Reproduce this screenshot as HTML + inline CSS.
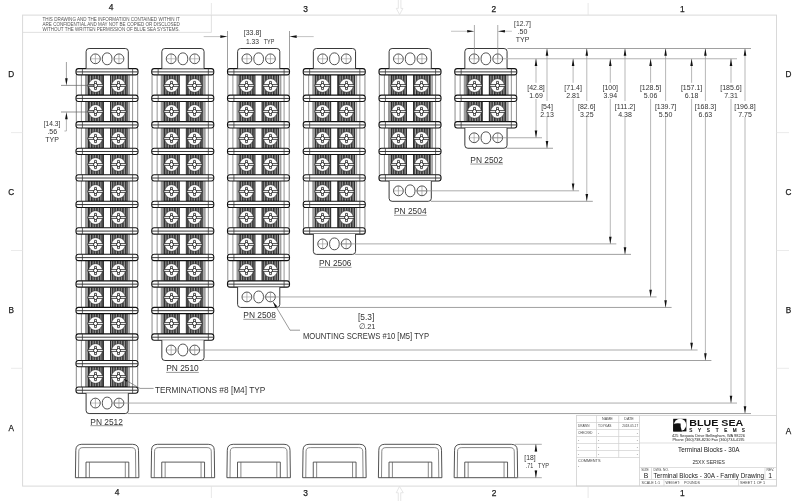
<!DOCTYPE html><html><head><meta charset="utf-8"><style>html,body{margin:0;padding:0;background:#fff;overflow:hidden}svg{display:block;will-change:transform}</style></head><body><svg width="800" height="501" viewBox="0 0 800 501" font-family='"Liberation Sans", sans-serif'>
<rect width="800" height="501" fill="#fff"/>
<defs>
<pattern id="hatch" patternUnits="userSpaceOnUse" width="2.6" height="4">
<rect width="2.6" height="4" fill="#333"/>
<rect x="1.5" width="1.1" height="4" fill="#a0a0a0"/>
</pattern>
<pattern id="hatch2" patternUnits="userSpaceOnUse" width="1.6" height="4">
<rect width="1.6" height="4" fill="#b0b0b0"/>
<rect width="0.7" height="4" fill="#777"/>
</pattern>
</defs>
<rect x="22.6" y="15.1" width="753.9" height="471" fill="none" stroke="#d9d9d9" stroke-width="1"/>
<text x="111" y="10.4" font-size="8.4" text-anchor="middle" fill="#222" font-weight="normal" stroke="#222" stroke-width="0.25">4</text>
<text x="305.6" y="12" font-size="8.4" text-anchor="middle" fill="#222" font-weight="normal" stroke="#222" stroke-width="0.25">3</text>
<text x="493.9" y="12" font-size="8.4" text-anchor="middle" fill="#222" font-weight="normal" stroke="#222" stroke-width="0.25">2</text>
<text x="682.3" y="12.2" font-size="8.4" text-anchor="middle" fill="#222" font-weight="normal" stroke="#222" stroke-width="0.25">1</text>
<text x="117" y="495.3" font-size="8.4" text-anchor="middle" fill="#222" font-weight="normal" stroke="#222" stroke-width="0.25">4</text>
<text x="305.7" y="495.5" font-size="8.4" text-anchor="middle" fill="#222" font-weight="normal" stroke="#222" stroke-width="0.25">3</text>
<text x="494" y="495.5" font-size="8.4" text-anchor="middle" fill="#222" font-weight="normal" stroke="#222" stroke-width="0.25">2</text>
<text x="682.3" y="495.5" font-size="8.4" text-anchor="middle" fill="#222" font-weight="normal" stroke="#222" stroke-width="0.25">1</text>
<text x="11.3" y="77.05" font-size="8.2" text-anchor="middle" fill="#222" font-weight="normal" stroke="#222" stroke-width="0.25">D</text>
<text x="788.4" y="76.95" font-size="8.2" text-anchor="middle" fill="#222" font-weight="normal" stroke="#222" stroke-width="0.25">D</text>
<text x="11.3" y="194.85" font-size="8.2" text-anchor="middle" fill="#222" font-weight="normal" stroke="#222" stroke-width="0.25">C</text>
<text x="788.4" y="194.85" font-size="8.2" text-anchor="middle" fill="#222" font-weight="normal" stroke="#222" stroke-width="0.25">C</text>
<text x="11.3" y="312.95" font-size="8.2" text-anchor="middle" fill="#222" font-weight="normal" stroke="#222" stroke-width="0.25">B</text>
<text x="788.4" y="312.95" font-size="8.2" text-anchor="middle" fill="#222" font-weight="normal" stroke="#222" stroke-width="0.25">B</text>
<text x="11.3" y="430.65" font-size="8.2" text-anchor="middle" fill="#222" font-weight="normal" stroke="#222" stroke-width="0.25">A</text>
<text x="788.4" y="433.75" font-size="8.2" text-anchor="middle" fill="#222" font-weight="normal" stroke="#222" stroke-width="0.25">A</text>
<line x1="211.4" y1="3" x2="211.4" y2="15.1" stroke="#e2e2e2" stroke-width="0.8" />
<line x1="211.4" y1="486.1" x2="211.4" y2="498" stroke="#e2e2e2" stroke-width="0.8" />
<line x1="588.1" y1="3" x2="588.1" y2="15.1" stroke="#e2e2e2" stroke-width="0.8" />
<line x1="588.1" y1="486.1" x2="588.1" y2="498" stroke="#e2e2e2" stroke-width="0.8" />
<line x1="11" y1="132.6" x2="22.6" y2="132.6" stroke="#e6e6e6" stroke-width="0.8" />
<line x1="776.5" y1="132.6" x2="789" y2="132.6" stroke="#e6e6e6" stroke-width="0.8" />
<line x1="11" y1="368.3" x2="22.6" y2="368.3" stroke="#e6e6e6" stroke-width="0.8" />
<line x1="776.5" y1="368.3" x2="789" y2="368.3" stroke="#e6e6e6" stroke-width="0.8" />
<line x1="11" y1="250.5" x2="22.6" y2="250.5" stroke="#e6e6e6" stroke-width="0.8" />
<line x1="776.5" y1="250.5" x2="789" y2="250.5" stroke="#e6e6e6" stroke-width="0.8" />
<path d="M398.3,0 V8.4 H396.3 L399.6,14.6 L402.9,8.4 H400.9 V0" fill="none" stroke="#e0e0e0" stroke-width="0.8"/>
<path d="M398.25,501 V492.75 H396.25 L399.5,486.4 L403.25,492.75 H400.75 V501" fill="none" stroke="#e0e0e0" stroke-width="0.8"/>
<path d="M23,32.4 H211.4 V15" fill="none" stroke="#d9d9d9" stroke-width="0.8"/>
<text x="111.2" y="21.3" font-size="4.7" text-anchor="middle" fill="#555" font-weight="normal" textLength="137.3" lengthAdjust="spacingAndGlyphs" >THIS DRAWING AND THE INFORMATION CONTAINED WITHIN IT</text>
<text x="111.2" y="26.05" font-size="4.7" text-anchor="middle" fill="#555" font-weight="normal" textLength="137.3" lengthAdjust="spacingAndGlyphs" >ARE CONFIDENTIAL AND MAY NOT BE COPIED OR DISCLOSED</text>
<text x="111.2" y="30.8" font-size="4.7" text-anchor="middle" fill="#555" font-weight="normal" textLength="137.3" lengthAdjust="spacingAndGlyphs" >WITHOUT THE WRITTEN PERMISSION OF BLUE SEA SYSTEMS.</text>
<line x1="76.3" y1="74.9" x2="76.3" y2="95.13" stroke="#8a8a8a" stroke-width="1.0" />
<line x1="81.4" y1="74.9" x2="81.4" y2="95.13" stroke="#8a8a8a" stroke-width="0.9" />
<line x1="137.7" y1="74.9" x2="137.7" y2="95.13" stroke="#8a8a8a" stroke-width="1.0" />
<line x1="132.6" y1="74.9" x2="132.6" y2="95.13" stroke="#8a8a8a" stroke-width="0.9" />
<rect x="85" y="74.9" width="3.2" height="20.23" fill="#9a9a9a"/>
<rect x="128.2" y="74.9" width="1.7" height="20.23" fill="#a0a0a0"/>
<rect x="88.4" y="74.9" width="15.1" height="20.23" fill="url(#hatch)" stroke="#111" stroke-width="0.8"/>
<circle cx="95.5" cy="85.5" r="6.85" fill="#fbfbfb" stroke="#333" stroke-width="0.6"/>
<path d="M87.9,84.55 H94.55 V81.4 H96.45 V84.55 H103.1 V86.45 H96.45 V89.6 H94.55 V86.45 H87.9 Z" fill="#fff" stroke="#2a2a2a" stroke-width="0.8"/>
<circle cx="95.5" cy="85.5" r="2.0" fill="#fff" stroke="#2a2a2a" stroke-width="1.0"/>
<rect x="110.5" y="74.9" width="16.7" height="20.23" fill="url(#hatch)" stroke="#111" stroke-width="0.8"/>
<circle cx="118.5" cy="85.5" r="6.85" fill="#fbfbfb" stroke="#333" stroke-width="0.6"/>
<path d="M110.9,84.55 H117.55 V81.4 H119.45 V84.55 H126.1 V86.45 H119.45 V89.6 H117.55 V86.45 H110.9 Z" fill="#fff" stroke="#2a2a2a" stroke-width="0.8"/>
<circle cx="118.5" cy="85.5" r="2.0" fill="#fff" stroke="#2a2a2a" stroke-width="1.0"/>
<line x1="76.3" y1="101.43" x2="76.3" y2="121.66" stroke="#8a8a8a" stroke-width="1.0" />
<line x1="81.4" y1="101.43" x2="81.4" y2="121.66" stroke="#8a8a8a" stroke-width="0.9" />
<line x1="137.7" y1="101.43" x2="137.7" y2="121.66" stroke="#8a8a8a" stroke-width="1.0" />
<line x1="132.6" y1="101.43" x2="132.6" y2="121.66" stroke="#8a8a8a" stroke-width="0.9" />
<rect x="85" y="101.43" width="3.2" height="20.23" fill="#9a9a9a"/>
<rect x="128.2" y="101.43" width="1.7" height="20.23" fill="#a0a0a0"/>
<rect x="88.4" y="101.43" width="15.1" height="20.23" fill="url(#hatch)" stroke="#111" stroke-width="0.8"/>
<circle cx="95.5" cy="111.5" r="6.85" fill="#fbfbfb" stroke="#333" stroke-width="0.6"/>
<path d="M87.9,110.55 H94.55 V107.4 H96.45 V110.55 H103.1 V112.45 H96.45 V115.6 H94.55 V112.45 H87.9 Z" fill="#fff" stroke="#2a2a2a" stroke-width="0.8"/>
<circle cx="95.5" cy="111.5" r="2.0" fill="#fff" stroke="#2a2a2a" stroke-width="1.0"/>
<rect x="110.5" y="101.43" width="16.7" height="20.23" fill="url(#hatch)" stroke="#111" stroke-width="0.8"/>
<circle cx="118.5" cy="111.5" r="6.85" fill="#fbfbfb" stroke="#333" stroke-width="0.6"/>
<path d="M110.9,110.55 H117.55 V107.4 H119.45 V110.55 H126.1 V112.45 H119.45 V115.6 H117.55 V112.45 H110.9 Z" fill="#fff" stroke="#2a2a2a" stroke-width="0.8"/>
<circle cx="118.5" cy="111.5" r="2.0" fill="#fff" stroke="#2a2a2a" stroke-width="1.0"/>
<line x1="76.3" y1="127.96" x2="76.3" y2="148.19" stroke="#8a8a8a" stroke-width="1.0" />
<line x1="81.4" y1="127.96" x2="81.4" y2="148.19" stroke="#8a8a8a" stroke-width="0.9" />
<line x1="137.7" y1="127.96" x2="137.7" y2="148.19" stroke="#8a8a8a" stroke-width="1.0" />
<line x1="132.6" y1="127.96" x2="132.6" y2="148.19" stroke="#8a8a8a" stroke-width="0.9" />
<rect x="85" y="127.96" width="3.2" height="20.23" fill="#9a9a9a"/>
<rect x="128.2" y="127.96" width="1.7" height="20.23" fill="#a0a0a0"/>
<rect x="88.4" y="127.96" width="15.1" height="20.23" fill="url(#hatch)" stroke="#111" stroke-width="0.8"/>
<circle cx="95.5" cy="138.5" r="6.85" fill="#fbfbfb" stroke="#333" stroke-width="0.6"/>
<path d="M87.9,137.55 H94.55 V134.4 H96.45 V137.55 H103.1 V139.45 H96.45 V142.6 H94.55 V139.45 H87.9 Z" fill="#fff" stroke="#2a2a2a" stroke-width="0.8"/>
<circle cx="95.5" cy="138.5" r="2.0" fill="#fff" stroke="#2a2a2a" stroke-width="1.0"/>
<rect x="110.5" y="127.96" width="16.7" height="20.23" fill="url(#hatch)" stroke="#111" stroke-width="0.8"/>
<circle cx="118.5" cy="138.5" r="6.85" fill="#fbfbfb" stroke="#333" stroke-width="0.6"/>
<path d="M110.9,137.55 H117.55 V134.4 H119.45 V137.55 H126.1 V139.45 H119.45 V142.6 H117.55 V139.45 H110.9 Z" fill="#fff" stroke="#2a2a2a" stroke-width="0.8"/>
<circle cx="118.5" cy="138.5" r="2.0" fill="#fff" stroke="#2a2a2a" stroke-width="1.0"/>
<line x1="76.3" y1="154.49" x2="76.3" y2="174.72" stroke="#8a8a8a" stroke-width="1.0" />
<line x1="81.4" y1="154.49" x2="81.4" y2="174.72" stroke="#8a8a8a" stroke-width="0.9" />
<line x1="137.7" y1="154.49" x2="137.7" y2="174.72" stroke="#8a8a8a" stroke-width="1.0" />
<line x1="132.6" y1="154.49" x2="132.6" y2="174.72" stroke="#8a8a8a" stroke-width="0.9" />
<rect x="85" y="154.49" width="3.2" height="20.23" fill="#9a9a9a"/>
<rect x="128.2" y="154.49" width="1.7" height="20.23" fill="#a0a0a0"/>
<rect x="88.4" y="154.49" width="15.1" height="20.23" fill="url(#hatch)" stroke="#111" stroke-width="0.8"/>
<circle cx="95.5" cy="164.5" r="6.85" fill="#fbfbfb" stroke="#333" stroke-width="0.6"/>
<path d="M87.9,163.55 H94.55 V160.4 H96.45 V163.55 H103.1 V165.45 H96.45 V168.6 H94.55 V165.45 H87.9 Z" fill="#fff" stroke="#2a2a2a" stroke-width="0.8"/>
<circle cx="95.5" cy="164.5" r="2.0" fill="#fff" stroke="#2a2a2a" stroke-width="1.0"/>
<rect x="110.5" y="154.49" width="16.7" height="20.23" fill="url(#hatch)" stroke="#111" stroke-width="0.8"/>
<circle cx="118.5" cy="164.5" r="6.85" fill="#fbfbfb" stroke="#333" stroke-width="0.6"/>
<path d="M110.9,163.55 H117.55 V160.4 H119.45 V163.55 H126.1 V165.45 H119.45 V168.6 H117.55 V165.45 H110.9 Z" fill="#fff" stroke="#2a2a2a" stroke-width="0.8"/>
<circle cx="118.5" cy="164.5" r="2.0" fill="#fff" stroke="#2a2a2a" stroke-width="1.0"/>
<line x1="76.3" y1="181.02" x2="76.3" y2="201.25" stroke="#8a8a8a" stroke-width="1.0" />
<line x1="81.4" y1="181.02" x2="81.4" y2="201.25" stroke="#8a8a8a" stroke-width="0.9" />
<line x1="137.7" y1="181.02" x2="137.7" y2="201.25" stroke="#8a8a8a" stroke-width="1.0" />
<line x1="132.6" y1="181.02" x2="132.6" y2="201.25" stroke="#8a8a8a" stroke-width="0.9" />
<rect x="85" y="181.02" width="3.2" height="20.23" fill="#9a9a9a"/>
<rect x="128.2" y="181.02" width="1.7" height="20.23" fill="#a0a0a0"/>
<rect x="88.4" y="181.02" width="15.1" height="20.23" fill="url(#hatch)" stroke="#111" stroke-width="0.8"/>
<circle cx="95.5" cy="191.5" r="6.85" fill="#fbfbfb" stroke="#333" stroke-width="0.6"/>
<path d="M87.9,190.55 H94.55 V187.4 H96.45 V190.55 H103.1 V192.45 H96.45 V195.6 H94.55 V192.45 H87.9 Z" fill="#fff" stroke="#2a2a2a" stroke-width="0.8"/>
<circle cx="95.5" cy="191.5" r="2.0" fill="#fff" stroke="#2a2a2a" stroke-width="1.0"/>
<rect x="110.5" y="181.02" width="16.7" height="20.23" fill="url(#hatch)" stroke="#111" stroke-width="0.8"/>
<circle cx="118.5" cy="191.5" r="6.85" fill="#fbfbfb" stroke="#333" stroke-width="0.6"/>
<path d="M110.9,190.55 H117.55 V187.4 H119.45 V190.55 H126.1 V192.45 H119.45 V195.6 H117.55 V192.45 H110.9 Z" fill="#fff" stroke="#2a2a2a" stroke-width="0.8"/>
<circle cx="118.5" cy="191.5" r="2.0" fill="#fff" stroke="#2a2a2a" stroke-width="1.0"/>
<line x1="76.3" y1="207.55" x2="76.3" y2="227.78" stroke="#8a8a8a" stroke-width="1.0" />
<line x1="81.4" y1="207.55" x2="81.4" y2="227.78" stroke="#8a8a8a" stroke-width="0.9" />
<line x1="137.7" y1="207.55" x2="137.7" y2="227.78" stroke="#8a8a8a" stroke-width="1.0" />
<line x1="132.6" y1="207.55" x2="132.6" y2="227.78" stroke="#8a8a8a" stroke-width="0.9" />
<rect x="85" y="207.55" width="3.2" height="20.23" fill="#9a9a9a"/>
<rect x="128.2" y="207.55" width="1.7" height="20.23" fill="#a0a0a0"/>
<rect x="88.4" y="207.55" width="15.1" height="20.23" fill="url(#hatch)" stroke="#111" stroke-width="0.8"/>
<circle cx="95.5" cy="217.5" r="6.85" fill="#fbfbfb" stroke="#333" stroke-width="0.6"/>
<path d="M87.9,216.55 H94.55 V213.4 H96.45 V216.55 H103.1 V218.45 H96.45 V221.6 H94.55 V218.45 H87.9 Z" fill="#fff" stroke="#2a2a2a" stroke-width="0.8"/>
<circle cx="95.5" cy="217.5" r="2.0" fill="#fff" stroke="#2a2a2a" stroke-width="1.0"/>
<rect x="110.5" y="207.55" width="16.7" height="20.23" fill="url(#hatch)" stroke="#111" stroke-width="0.8"/>
<circle cx="118.5" cy="217.5" r="6.85" fill="#fbfbfb" stroke="#333" stroke-width="0.6"/>
<path d="M110.9,216.55 H117.55 V213.4 H119.45 V216.55 H126.1 V218.45 H119.45 V221.6 H117.55 V218.45 H110.9 Z" fill="#fff" stroke="#2a2a2a" stroke-width="0.8"/>
<circle cx="118.5" cy="217.5" r="2.0" fill="#fff" stroke="#2a2a2a" stroke-width="1.0"/>
<line x1="76.3" y1="234.08" x2="76.3" y2="254.31" stroke="#8a8a8a" stroke-width="1.0" />
<line x1="81.4" y1="234.08" x2="81.4" y2="254.31" stroke="#8a8a8a" stroke-width="0.9" />
<line x1="137.7" y1="234.08" x2="137.7" y2="254.31" stroke="#8a8a8a" stroke-width="1.0" />
<line x1="132.6" y1="234.08" x2="132.6" y2="254.31" stroke="#8a8a8a" stroke-width="0.9" />
<rect x="85" y="234.08" width="3.2" height="20.23" fill="#9a9a9a"/>
<rect x="128.2" y="234.08" width="1.7" height="20.23" fill="#a0a0a0"/>
<rect x="88.4" y="234.08" width="15.1" height="20.23" fill="url(#hatch)" stroke="#111" stroke-width="0.8"/>
<circle cx="95.5" cy="244.5" r="6.85" fill="#fbfbfb" stroke="#333" stroke-width="0.6"/>
<path d="M87.9,243.55 H94.55 V240.4 H96.45 V243.55 H103.1 V245.45 H96.45 V248.6 H94.55 V245.45 H87.9 Z" fill="#fff" stroke="#2a2a2a" stroke-width="0.8"/>
<circle cx="95.5" cy="244.5" r="2.0" fill="#fff" stroke="#2a2a2a" stroke-width="1.0"/>
<rect x="110.5" y="234.08" width="16.7" height="20.23" fill="url(#hatch)" stroke="#111" stroke-width="0.8"/>
<circle cx="118.5" cy="244.5" r="6.85" fill="#fbfbfb" stroke="#333" stroke-width="0.6"/>
<path d="M110.9,243.55 H117.55 V240.4 H119.45 V243.55 H126.1 V245.45 H119.45 V248.6 H117.55 V245.45 H110.9 Z" fill="#fff" stroke="#2a2a2a" stroke-width="0.8"/>
<circle cx="118.5" cy="244.5" r="2.0" fill="#fff" stroke="#2a2a2a" stroke-width="1.0"/>
<line x1="76.3" y1="260.61" x2="76.3" y2="280.84" stroke="#8a8a8a" stroke-width="1.0" />
<line x1="81.4" y1="260.61" x2="81.4" y2="280.84" stroke="#8a8a8a" stroke-width="0.9" />
<line x1="137.7" y1="260.61" x2="137.7" y2="280.84" stroke="#8a8a8a" stroke-width="1.0" />
<line x1="132.6" y1="260.61" x2="132.6" y2="280.84" stroke="#8a8a8a" stroke-width="0.9" />
<rect x="85" y="260.61" width="3.2" height="20.23" fill="#9a9a9a"/>
<rect x="128.2" y="260.61" width="1.7" height="20.23" fill="#a0a0a0"/>
<rect x="88.4" y="260.61" width="15.1" height="20.23" fill="url(#hatch)" stroke="#111" stroke-width="0.8"/>
<circle cx="95.5" cy="270.5" r="6.85" fill="#fbfbfb" stroke="#333" stroke-width="0.6"/>
<path d="M87.9,269.55 H94.55 V266.4 H96.45 V269.55 H103.1 V271.45 H96.45 V274.6 H94.55 V271.45 H87.9 Z" fill="#fff" stroke="#2a2a2a" stroke-width="0.8"/>
<circle cx="95.5" cy="270.5" r="2.0" fill="#fff" stroke="#2a2a2a" stroke-width="1.0"/>
<rect x="110.5" y="260.61" width="16.7" height="20.23" fill="url(#hatch)" stroke="#111" stroke-width="0.8"/>
<circle cx="118.5" cy="270.5" r="6.85" fill="#fbfbfb" stroke="#333" stroke-width="0.6"/>
<path d="M110.9,269.55 H117.55 V266.4 H119.45 V269.55 H126.1 V271.45 H119.45 V274.6 H117.55 V271.45 H110.9 Z" fill="#fff" stroke="#2a2a2a" stroke-width="0.8"/>
<circle cx="118.5" cy="270.5" r="2.0" fill="#fff" stroke="#2a2a2a" stroke-width="1.0"/>
<line x1="76.3" y1="287.14" x2="76.3" y2="307.37" stroke="#8a8a8a" stroke-width="1.0" />
<line x1="81.4" y1="287.14" x2="81.4" y2="307.37" stroke="#8a8a8a" stroke-width="0.9" />
<line x1="137.7" y1="287.14" x2="137.7" y2="307.37" stroke="#8a8a8a" stroke-width="1.0" />
<line x1="132.6" y1="287.14" x2="132.6" y2="307.37" stroke="#8a8a8a" stroke-width="0.9" />
<rect x="85" y="287.14" width="3.2" height="20.23" fill="#9a9a9a"/>
<rect x="128.2" y="287.14" width="1.7" height="20.23" fill="#a0a0a0"/>
<rect x="88.4" y="287.14" width="15.1" height="20.23" fill="url(#hatch)" stroke="#111" stroke-width="0.8"/>
<circle cx="95.5" cy="297.5" r="6.85" fill="#fbfbfb" stroke="#333" stroke-width="0.6"/>
<path d="M87.9,296.55 H94.55 V293.4 H96.45 V296.55 H103.1 V298.45 H96.45 V301.6 H94.55 V298.45 H87.9 Z" fill="#fff" stroke="#2a2a2a" stroke-width="0.8"/>
<circle cx="95.5" cy="297.5" r="2.0" fill="#fff" stroke="#2a2a2a" stroke-width="1.0"/>
<rect x="110.5" y="287.14" width="16.7" height="20.23" fill="url(#hatch)" stroke="#111" stroke-width="0.8"/>
<circle cx="118.5" cy="297.5" r="6.85" fill="#fbfbfb" stroke="#333" stroke-width="0.6"/>
<path d="M110.9,296.55 H117.55 V293.4 H119.45 V296.55 H126.1 V298.45 H119.45 V301.6 H117.55 V298.45 H110.9 Z" fill="#fff" stroke="#2a2a2a" stroke-width="0.8"/>
<circle cx="118.5" cy="297.5" r="2.0" fill="#fff" stroke="#2a2a2a" stroke-width="1.0"/>
<line x1="76.3" y1="313.67" x2="76.3" y2="333.9" stroke="#8a8a8a" stroke-width="1.0" />
<line x1="81.4" y1="313.67" x2="81.4" y2="333.9" stroke="#8a8a8a" stroke-width="0.9" />
<line x1="137.7" y1="313.67" x2="137.7" y2="333.9" stroke="#8a8a8a" stroke-width="1.0" />
<line x1="132.6" y1="313.67" x2="132.6" y2="333.9" stroke="#8a8a8a" stroke-width="0.9" />
<rect x="85" y="313.67" width="3.2" height="20.23" fill="#9a9a9a"/>
<rect x="128.2" y="313.67" width="1.7" height="20.23" fill="#a0a0a0"/>
<rect x="88.4" y="313.67" width="15.1" height="20.23" fill="url(#hatch)" stroke="#111" stroke-width="0.8"/>
<circle cx="95.5" cy="323.5" r="6.85" fill="#fbfbfb" stroke="#333" stroke-width="0.6"/>
<path d="M87.9,322.55 H94.55 V319.4 H96.45 V322.55 H103.1 V324.45 H96.45 V327.6 H94.55 V324.45 H87.9 Z" fill="#fff" stroke="#2a2a2a" stroke-width="0.8"/>
<circle cx="95.5" cy="323.5" r="2.0" fill="#fff" stroke="#2a2a2a" stroke-width="1.0"/>
<rect x="110.5" y="313.67" width="16.7" height="20.23" fill="url(#hatch)" stroke="#111" stroke-width="0.8"/>
<circle cx="118.5" cy="323.5" r="6.85" fill="#fbfbfb" stroke="#333" stroke-width="0.6"/>
<path d="M110.9,322.55 H117.55 V319.4 H119.45 V322.55 H126.1 V324.45 H119.45 V327.6 H117.55 V324.45 H110.9 Z" fill="#fff" stroke="#2a2a2a" stroke-width="0.8"/>
<circle cx="118.5" cy="323.5" r="2.0" fill="#fff" stroke="#2a2a2a" stroke-width="1.0"/>
<line x1="76.3" y1="340.2" x2="76.3" y2="360.43" stroke="#8a8a8a" stroke-width="1.0" />
<line x1="81.4" y1="340.2" x2="81.4" y2="360.43" stroke="#8a8a8a" stroke-width="0.9" />
<line x1="137.7" y1="340.2" x2="137.7" y2="360.43" stroke="#8a8a8a" stroke-width="1.0" />
<line x1="132.6" y1="340.2" x2="132.6" y2="360.43" stroke="#8a8a8a" stroke-width="0.9" />
<rect x="85" y="340.2" width="3.2" height="20.23" fill="#9a9a9a"/>
<rect x="128.2" y="340.2" width="1.7" height="20.23" fill="#a0a0a0"/>
<rect x="88.4" y="340.2" width="15.1" height="20.23" fill="url(#hatch)" stroke="#111" stroke-width="0.8"/>
<circle cx="95.5" cy="350.5" r="6.85" fill="#fbfbfb" stroke="#333" stroke-width="0.6"/>
<path d="M87.9,349.55 H94.55 V346.4 H96.45 V349.55 H103.1 V351.45 H96.45 V354.6 H94.55 V351.45 H87.9 Z" fill="#fff" stroke="#2a2a2a" stroke-width="0.8"/>
<circle cx="95.5" cy="350.5" r="2.0" fill="#fff" stroke="#2a2a2a" stroke-width="1.0"/>
<rect x="110.5" y="340.2" width="16.7" height="20.23" fill="url(#hatch)" stroke="#111" stroke-width="0.8"/>
<circle cx="118.5" cy="350.5" r="6.85" fill="#fbfbfb" stroke="#333" stroke-width="0.6"/>
<path d="M110.9,349.55 H117.55 V346.4 H119.45 V349.55 H126.1 V351.45 H119.45 V354.6 H117.55 V351.45 H110.9 Z" fill="#fff" stroke="#2a2a2a" stroke-width="0.8"/>
<circle cx="118.5" cy="350.5" r="2.0" fill="#fff" stroke="#2a2a2a" stroke-width="1.0"/>
<line x1="76.3" y1="366.73" x2="76.3" y2="386.96" stroke="#8a8a8a" stroke-width="1.0" />
<line x1="81.4" y1="366.73" x2="81.4" y2="386.96" stroke="#8a8a8a" stroke-width="0.9" />
<line x1="137.7" y1="366.73" x2="137.7" y2="386.96" stroke="#8a8a8a" stroke-width="1.0" />
<line x1="132.6" y1="366.73" x2="132.6" y2="386.96" stroke="#8a8a8a" stroke-width="0.9" />
<rect x="85" y="366.73" width="3.2" height="20.23" fill="#9a9a9a"/>
<rect x="128.2" y="366.73" width="1.7" height="20.23" fill="#a0a0a0"/>
<rect x="88.4" y="366.73" width="15.1" height="20.23" fill="url(#hatch)" stroke="#111" stroke-width="0.8"/>
<circle cx="95.5" cy="376.5" r="6.85" fill="#fbfbfb" stroke="#333" stroke-width="0.6"/>
<path d="M87.9,375.55 H94.55 V372.4 H96.45 V375.55 H103.1 V377.45 H96.45 V380.6 H94.55 V377.45 H87.9 Z" fill="#fff" stroke="#2a2a2a" stroke-width="0.8"/>
<circle cx="95.5" cy="376.5" r="2.0" fill="#fff" stroke="#2a2a2a" stroke-width="1.0"/>
<rect x="110.5" y="366.73" width="16.7" height="20.23" fill="url(#hatch)" stroke="#111" stroke-width="0.8"/>
<circle cx="118.5" cy="376.5" r="6.85" fill="#fbfbfb" stroke="#333" stroke-width="0.6"/>
<path d="M110.9,375.55 H117.55 V372.4 H119.45 V375.55 H126.1 V377.45 H119.45 V380.6 H117.55 V377.45 H110.9 Z" fill="#fff" stroke="#2a2a2a" stroke-width="0.8"/>
<circle cx="118.5" cy="376.5" r="2.0" fill="#fff" stroke="#2a2a2a" stroke-width="1.0"/>
<rect x="76" y="68.6" width="62" height="6.3" rx="2.4" fill="#fff" stroke="#111" stroke-width="1.1"/>
<line x1="76.3" y1="71.9" x2="137.7" y2="71.9" stroke="#222" stroke-width="0.9" />
<line x1="82.4" y1="68.6" x2="82.4" y2="74.9" stroke="#333" stroke-width="0.75" />
<line x1="132.6" y1="68.6" x2="132.6" y2="74.9" stroke="#333" stroke-width="0.75" />
<rect x="76" y="95.13" width="62" height="6.3" rx="2.4" fill="#fff" stroke="#111" stroke-width="1.1"/>
<line x1="76.3" y1="98.43" x2="137.7" y2="98.43" stroke="#222" stroke-width="0.9" />
<line x1="82.4" y1="95.13" x2="82.4" y2="101.43" stroke="#333" stroke-width="0.75" />
<line x1="132.6" y1="95.13" x2="132.6" y2="101.43" stroke="#333" stroke-width="0.75" />
<rect x="76" y="121.66" width="62" height="6.3" rx="2.4" fill="#fff" stroke="#111" stroke-width="1.1"/>
<line x1="76.3" y1="124.96" x2="137.7" y2="124.96" stroke="#222" stroke-width="0.9" />
<line x1="82.4" y1="121.66" x2="82.4" y2="127.96" stroke="#333" stroke-width="0.75" />
<line x1="132.6" y1="121.66" x2="132.6" y2="127.96" stroke="#333" stroke-width="0.75" />
<rect x="76" y="148.19" width="62" height="6.3" rx="2.4" fill="#fff" stroke="#111" stroke-width="1.1"/>
<line x1="76.3" y1="151.49" x2="137.7" y2="151.49" stroke="#222" stroke-width="0.9" />
<line x1="82.4" y1="148.19" x2="82.4" y2="154.49" stroke="#333" stroke-width="0.75" />
<line x1="132.6" y1="148.19" x2="132.6" y2="154.49" stroke="#333" stroke-width="0.75" />
<rect x="76" y="174.72" width="62" height="6.3" rx="2.4" fill="#fff" stroke="#111" stroke-width="1.1"/>
<line x1="76.3" y1="178.02" x2="137.7" y2="178.02" stroke="#222" stroke-width="0.9" />
<line x1="82.4" y1="174.72" x2="82.4" y2="181.02" stroke="#333" stroke-width="0.75" />
<line x1="132.6" y1="174.72" x2="132.6" y2="181.02" stroke="#333" stroke-width="0.75" />
<rect x="76" y="201.25" width="62" height="6.3" rx="2.4" fill="#fff" stroke="#111" stroke-width="1.1"/>
<line x1="76.3" y1="204.55" x2="137.7" y2="204.55" stroke="#222" stroke-width="0.9" />
<line x1="82.4" y1="201.25" x2="82.4" y2="207.55" stroke="#333" stroke-width="0.75" />
<line x1="132.6" y1="201.25" x2="132.6" y2="207.55" stroke="#333" stroke-width="0.75" />
<rect x="76" y="227.78" width="62" height="6.3" rx="2.4" fill="#fff" stroke="#111" stroke-width="1.1"/>
<line x1="76.3" y1="231.08" x2="137.7" y2="231.08" stroke="#222" stroke-width="0.9" />
<line x1="82.4" y1="227.78" x2="82.4" y2="234.08" stroke="#333" stroke-width="0.75" />
<line x1="132.6" y1="227.78" x2="132.6" y2="234.08" stroke="#333" stroke-width="0.75" />
<rect x="76" y="254.31" width="62" height="6.3" rx="2.4" fill="#fff" stroke="#111" stroke-width="1.1"/>
<line x1="76.3" y1="257.61" x2="137.7" y2="257.61" stroke="#222" stroke-width="0.9" />
<line x1="82.4" y1="254.31" x2="82.4" y2="260.61" stroke="#333" stroke-width="0.75" />
<line x1="132.6" y1="254.31" x2="132.6" y2="260.61" stroke="#333" stroke-width="0.75" />
<rect x="76" y="280.84" width="62" height="6.3" rx="2.4" fill="#fff" stroke="#111" stroke-width="1.1"/>
<line x1="76.3" y1="284.14" x2="137.7" y2="284.14" stroke="#222" stroke-width="0.9" />
<line x1="82.4" y1="280.84" x2="82.4" y2="287.14" stroke="#333" stroke-width="0.75" />
<line x1="132.6" y1="280.84" x2="132.6" y2="287.14" stroke="#333" stroke-width="0.75" />
<rect x="76" y="307.37" width="62" height="6.3" rx="2.4" fill="#fff" stroke="#111" stroke-width="1.1"/>
<line x1="76.3" y1="310.67" x2="137.7" y2="310.67" stroke="#222" stroke-width="0.9" />
<line x1="82.4" y1="307.37" x2="82.4" y2="313.67" stroke="#333" stroke-width="0.75" />
<line x1="132.6" y1="307.37" x2="132.6" y2="313.67" stroke="#333" stroke-width="0.75" />
<rect x="76" y="333.9" width="62" height="6.3" rx="2.4" fill="#fff" stroke="#111" stroke-width="1.1"/>
<line x1="76.3" y1="337.2" x2="137.7" y2="337.2" stroke="#222" stroke-width="0.9" />
<line x1="82.4" y1="333.9" x2="82.4" y2="340.2" stroke="#333" stroke-width="0.75" />
<line x1="132.6" y1="333.9" x2="132.6" y2="340.2" stroke="#333" stroke-width="0.75" />
<rect x="76" y="360.43" width="62" height="6.3" rx="2.4" fill="#fff" stroke="#111" stroke-width="1.1"/>
<line x1="76.3" y1="363.73" x2="137.7" y2="363.73" stroke="#222" stroke-width="0.9" />
<line x1="82.4" y1="360.43" x2="82.4" y2="366.73" stroke="#333" stroke-width="0.75" />
<line x1="132.6" y1="360.43" x2="132.6" y2="366.73" stroke="#333" stroke-width="0.75" />
<rect x="76" y="386.96" width="62" height="6.3" rx="2.4" fill="#fff" stroke="#111" stroke-width="1.1"/>
<line x1="76.3" y1="390.26" x2="137.7" y2="390.26" stroke="#222" stroke-width="0.9" />
<line x1="82.4" y1="386.96" x2="82.4" y2="393.26" stroke="#333" stroke-width="0.75" />
<line x1="132.6" y1="386.96" x2="132.6" y2="393.26" stroke="#333" stroke-width="0.75" />
<path d="M86.1,68.6 V51.5 Q86.1,48.5 89.1,48.5 H125.3 Q128.3,48.5 128.3,51.5 V68.6" fill="#fff" stroke="#222" stroke-width="0.9"/>
<line x1="90.8" y1="58.8" x2="100" y2="58.8" stroke="#999" stroke-width="0.6" />
<line x1="95.4" y1="54.2" x2="95.4" y2="63.4" stroke="#888" stroke-width="0.6" />
<circle cx="95.4" cy="58.8" r="4.9" fill="none" stroke="#333" stroke-width="0.85"/>
<line x1="114.35" y1="58.8" x2="123.55" y2="58.8" stroke="#999" stroke-width="0.6" />
<line x1="118.95" y1="54.2" x2="118.95" y2="63.4" stroke="#888" stroke-width="0.6" />
<circle cx="118.95" cy="58.8" r="4.9" fill="none" stroke="#333" stroke-width="0.85"/>
<rect x="102.35" y="52.9" width="9.6" height="11.8" rx="4.5" ry="5.2" fill="none" stroke="#333" stroke-width="0.85"/>
<path d="M86.1,393.26 V410.56 Q86.1,413.56 89.1,413.56 H125.3 Q128.3,413.56 128.3,410.56 V393.26" fill="#fff" stroke="#222" stroke-width="0.9"/>
<line x1="90.8" y1="403.06" x2="100" y2="403.06" stroke="#999" stroke-width="0.6" />
<line x1="95.4" y1="398.46" x2="95.4" y2="407.66" stroke="#888" stroke-width="0.6" />
<circle cx="95.4" cy="403.06" r="4.9" fill="none" stroke="#333" stroke-width="0.85"/>
<line x1="114.35" y1="403.06" x2="123.55" y2="403.06" stroke="#999" stroke-width="0.6" />
<line x1="118.95" y1="398.46" x2="118.95" y2="407.66" stroke="#888" stroke-width="0.6" />
<circle cx="118.95" cy="403.06" r="4.9" fill="none" stroke="#333" stroke-width="0.85"/>
<rect x="102.35" y="397.16" width="9.6" height="11.8" rx="4.5" ry="5.2" fill="none" stroke="#333" stroke-width="0.85"/>
<text x="106.65" y="424.5" font-size="8.6" text-anchor="middle" fill="#333" font-weight="normal" textLength="32.6" lengthAdjust="spacingAndGlyphs" >PN 2512</text>
<line x1="90.35" y1="425.7" x2="122.95" y2="425.7" stroke="#555" stroke-width="0.6" />
<line x1="152.05" y1="74.9" x2="152.05" y2="95.13" stroke="#8a8a8a" stroke-width="1.0" />
<line x1="157.15" y1="74.9" x2="157.15" y2="95.13" stroke="#8a8a8a" stroke-width="0.9" />
<line x1="213.45" y1="74.9" x2="213.45" y2="95.13" stroke="#8a8a8a" stroke-width="1.0" />
<line x1="208.35" y1="74.9" x2="208.35" y2="95.13" stroke="#8a8a8a" stroke-width="0.9" />
<rect x="160.75" y="74.9" width="3.2" height="20.23" fill="#9a9a9a"/>
<rect x="203.95" y="74.9" width="1.7" height="20.23" fill="#a0a0a0"/>
<rect x="164.15" y="74.9" width="15.1" height="20.23" fill="url(#hatch)" stroke="#111" stroke-width="0.8"/>
<circle cx="171.5" cy="85.5" r="6.85" fill="#fbfbfb" stroke="#333" stroke-width="0.6"/>
<path d="M163.9,84.55 H170.55 V81.4 H172.45 V84.55 H179.1 V86.45 H172.45 V89.6 H170.55 V86.45 H163.9 Z" fill="#fff" stroke="#2a2a2a" stroke-width="0.8"/>
<circle cx="171.5" cy="85.5" r="2.0" fill="#fff" stroke="#2a2a2a" stroke-width="1.0"/>
<rect x="186.25" y="74.9" width="16.7" height="20.23" fill="url(#hatch)" stroke="#111" stroke-width="0.8"/>
<circle cx="194.5" cy="85.5" r="6.85" fill="#fbfbfb" stroke="#333" stroke-width="0.6"/>
<path d="M186.9,84.55 H193.55 V81.4 H195.45 V84.55 H202.1 V86.45 H195.45 V89.6 H193.55 V86.45 H186.9 Z" fill="#fff" stroke="#2a2a2a" stroke-width="0.8"/>
<circle cx="194.5" cy="85.5" r="2.0" fill="#fff" stroke="#2a2a2a" stroke-width="1.0"/>
<line x1="152.05" y1="101.43" x2="152.05" y2="121.66" stroke="#8a8a8a" stroke-width="1.0" />
<line x1="157.15" y1="101.43" x2="157.15" y2="121.66" stroke="#8a8a8a" stroke-width="0.9" />
<line x1="213.45" y1="101.43" x2="213.45" y2="121.66" stroke="#8a8a8a" stroke-width="1.0" />
<line x1="208.35" y1="101.43" x2="208.35" y2="121.66" stroke="#8a8a8a" stroke-width="0.9" />
<rect x="160.75" y="101.43" width="3.2" height="20.23" fill="#9a9a9a"/>
<rect x="203.95" y="101.43" width="1.7" height="20.23" fill="#a0a0a0"/>
<rect x="164.15" y="101.43" width="15.1" height="20.23" fill="url(#hatch)" stroke="#111" stroke-width="0.8"/>
<circle cx="171.5" cy="111.5" r="6.85" fill="#fbfbfb" stroke="#333" stroke-width="0.6"/>
<path d="M163.9,110.55 H170.55 V107.4 H172.45 V110.55 H179.1 V112.45 H172.45 V115.6 H170.55 V112.45 H163.9 Z" fill="#fff" stroke="#2a2a2a" stroke-width="0.8"/>
<circle cx="171.5" cy="111.5" r="2.0" fill="#fff" stroke="#2a2a2a" stroke-width="1.0"/>
<rect x="186.25" y="101.43" width="16.7" height="20.23" fill="url(#hatch)" stroke="#111" stroke-width="0.8"/>
<circle cx="194.5" cy="111.5" r="6.85" fill="#fbfbfb" stroke="#333" stroke-width="0.6"/>
<path d="M186.9,110.55 H193.55 V107.4 H195.45 V110.55 H202.1 V112.45 H195.45 V115.6 H193.55 V112.45 H186.9 Z" fill="#fff" stroke="#2a2a2a" stroke-width="0.8"/>
<circle cx="194.5" cy="111.5" r="2.0" fill="#fff" stroke="#2a2a2a" stroke-width="1.0"/>
<line x1="152.05" y1="127.96" x2="152.05" y2="148.19" stroke="#8a8a8a" stroke-width="1.0" />
<line x1="157.15" y1="127.96" x2="157.15" y2="148.19" stroke="#8a8a8a" stroke-width="0.9" />
<line x1="213.45" y1="127.96" x2="213.45" y2="148.19" stroke="#8a8a8a" stroke-width="1.0" />
<line x1="208.35" y1="127.96" x2="208.35" y2="148.19" stroke="#8a8a8a" stroke-width="0.9" />
<rect x="160.75" y="127.96" width="3.2" height="20.23" fill="#9a9a9a"/>
<rect x="203.95" y="127.96" width="1.7" height="20.23" fill="#a0a0a0"/>
<rect x="164.15" y="127.96" width="15.1" height="20.23" fill="url(#hatch)" stroke="#111" stroke-width="0.8"/>
<circle cx="171.5" cy="138.5" r="6.85" fill="#fbfbfb" stroke="#333" stroke-width="0.6"/>
<path d="M163.9,137.55 H170.55 V134.4 H172.45 V137.55 H179.1 V139.45 H172.45 V142.6 H170.55 V139.45 H163.9 Z" fill="#fff" stroke="#2a2a2a" stroke-width="0.8"/>
<circle cx="171.5" cy="138.5" r="2.0" fill="#fff" stroke="#2a2a2a" stroke-width="1.0"/>
<rect x="186.25" y="127.96" width="16.7" height="20.23" fill="url(#hatch)" stroke="#111" stroke-width="0.8"/>
<circle cx="194.5" cy="138.5" r="6.85" fill="#fbfbfb" stroke="#333" stroke-width="0.6"/>
<path d="M186.9,137.55 H193.55 V134.4 H195.45 V137.55 H202.1 V139.45 H195.45 V142.6 H193.55 V139.45 H186.9 Z" fill="#fff" stroke="#2a2a2a" stroke-width="0.8"/>
<circle cx="194.5" cy="138.5" r="2.0" fill="#fff" stroke="#2a2a2a" stroke-width="1.0"/>
<line x1="152.05" y1="154.49" x2="152.05" y2="174.72" stroke="#8a8a8a" stroke-width="1.0" />
<line x1="157.15" y1="154.49" x2="157.15" y2="174.72" stroke="#8a8a8a" stroke-width="0.9" />
<line x1="213.45" y1="154.49" x2="213.45" y2="174.72" stroke="#8a8a8a" stroke-width="1.0" />
<line x1="208.35" y1="154.49" x2="208.35" y2="174.72" stroke="#8a8a8a" stroke-width="0.9" />
<rect x="160.75" y="154.49" width="3.2" height="20.23" fill="#9a9a9a"/>
<rect x="203.95" y="154.49" width="1.7" height="20.23" fill="#a0a0a0"/>
<rect x="164.15" y="154.49" width="15.1" height="20.23" fill="url(#hatch)" stroke="#111" stroke-width="0.8"/>
<circle cx="171.5" cy="164.5" r="6.85" fill="#fbfbfb" stroke="#333" stroke-width="0.6"/>
<path d="M163.9,163.55 H170.55 V160.4 H172.45 V163.55 H179.1 V165.45 H172.45 V168.6 H170.55 V165.45 H163.9 Z" fill="#fff" stroke="#2a2a2a" stroke-width="0.8"/>
<circle cx="171.5" cy="164.5" r="2.0" fill="#fff" stroke="#2a2a2a" stroke-width="1.0"/>
<rect x="186.25" y="154.49" width="16.7" height="20.23" fill="url(#hatch)" stroke="#111" stroke-width="0.8"/>
<circle cx="194.5" cy="164.5" r="6.85" fill="#fbfbfb" stroke="#333" stroke-width="0.6"/>
<path d="M186.9,163.55 H193.55 V160.4 H195.45 V163.55 H202.1 V165.45 H195.45 V168.6 H193.55 V165.45 H186.9 Z" fill="#fff" stroke="#2a2a2a" stroke-width="0.8"/>
<circle cx="194.5" cy="164.5" r="2.0" fill="#fff" stroke="#2a2a2a" stroke-width="1.0"/>
<line x1="152.05" y1="181.02" x2="152.05" y2="201.25" stroke="#8a8a8a" stroke-width="1.0" />
<line x1="157.15" y1="181.02" x2="157.15" y2="201.25" stroke="#8a8a8a" stroke-width="0.9" />
<line x1="213.45" y1="181.02" x2="213.45" y2="201.25" stroke="#8a8a8a" stroke-width="1.0" />
<line x1="208.35" y1="181.02" x2="208.35" y2="201.25" stroke="#8a8a8a" stroke-width="0.9" />
<rect x="160.75" y="181.02" width="3.2" height="20.23" fill="#9a9a9a"/>
<rect x="203.95" y="181.02" width="1.7" height="20.23" fill="#a0a0a0"/>
<rect x="164.15" y="181.02" width="15.1" height="20.23" fill="url(#hatch)" stroke="#111" stroke-width="0.8"/>
<circle cx="171.5" cy="191.5" r="6.85" fill="#fbfbfb" stroke="#333" stroke-width="0.6"/>
<path d="M163.9,190.55 H170.55 V187.4 H172.45 V190.55 H179.1 V192.45 H172.45 V195.6 H170.55 V192.45 H163.9 Z" fill="#fff" stroke="#2a2a2a" stroke-width="0.8"/>
<circle cx="171.5" cy="191.5" r="2.0" fill="#fff" stroke="#2a2a2a" stroke-width="1.0"/>
<rect x="186.25" y="181.02" width="16.7" height="20.23" fill="url(#hatch)" stroke="#111" stroke-width="0.8"/>
<circle cx="194.5" cy="191.5" r="6.85" fill="#fbfbfb" stroke="#333" stroke-width="0.6"/>
<path d="M186.9,190.55 H193.55 V187.4 H195.45 V190.55 H202.1 V192.45 H195.45 V195.6 H193.55 V192.45 H186.9 Z" fill="#fff" stroke="#2a2a2a" stroke-width="0.8"/>
<circle cx="194.5" cy="191.5" r="2.0" fill="#fff" stroke="#2a2a2a" stroke-width="1.0"/>
<line x1="152.05" y1="207.55" x2="152.05" y2="227.78" stroke="#8a8a8a" stroke-width="1.0" />
<line x1="157.15" y1="207.55" x2="157.15" y2="227.78" stroke="#8a8a8a" stroke-width="0.9" />
<line x1="213.45" y1="207.55" x2="213.45" y2="227.78" stroke="#8a8a8a" stroke-width="1.0" />
<line x1="208.35" y1="207.55" x2="208.35" y2="227.78" stroke="#8a8a8a" stroke-width="0.9" />
<rect x="160.75" y="207.55" width="3.2" height="20.23" fill="#9a9a9a"/>
<rect x="203.95" y="207.55" width="1.7" height="20.23" fill="#a0a0a0"/>
<rect x="164.15" y="207.55" width="15.1" height="20.23" fill="url(#hatch)" stroke="#111" stroke-width="0.8"/>
<circle cx="171.5" cy="217.5" r="6.85" fill="#fbfbfb" stroke="#333" stroke-width="0.6"/>
<path d="M163.9,216.55 H170.55 V213.4 H172.45 V216.55 H179.1 V218.45 H172.45 V221.6 H170.55 V218.45 H163.9 Z" fill="#fff" stroke="#2a2a2a" stroke-width="0.8"/>
<circle cx="171.5" cy="217.5" r="2.0" fill="#fff" stroke="#2a2a2a" stroke-width="1.0"/>
<rect x="186.25" y="207.55" width="16.7" height="20.23" fill="url(#hatch)" stroke="#111" stroke-width="0.8"/>
<circle cx="194.5" cy="217.5" r="6.85" fill="#fbfbfb" stroke="#333" stroke-width="0.6"/>
<path d="M186.9,216.55 H193.55 V213.4 H195.45 V216.55 H202.1 V218.45 H195.45 V221.6 H193.55 V218.45 H186.9 Z" fill="#fff" stroke="#2a2a2a" stroke-width="0.8"/>
<circle cx="194.5" cy="217.5" r="2.0" fill="#fff" stroke="#2a2a2a" stroke-width="1.0"/>
<line x1="152.05" y1="234.08" x2="152.05" y2="254.31" stroke="#8a8a8a" stroke-width="1.0" />
<line x1="157.15" y1="234.08" x2="157.15" y2="254.31" stroke="#8a8a8a" stroke-width="0.9" />
<line x1="213.45" y1="234.08" x2="213.45" y2="254.31" stroke="#8a8a8a" stroke-width="1.0" />
<line x1="208.35" y1="234.08" x2="208.35" y2="254.31" stroke="#8a8a8a" stroke-width="0.9" />
<rect x="160.75" y="234.08" width="3.2" height="20.23" fill="#9a9a9a"/>
<rect x="203.95" y="234.08" width="1.7" height="20.23" fill="#a0a0a0"/>
<rect x="164.15" y="234.08" width="15.1" height="20.23" fill="url(#hatch)" stroke="#111" stroke-width="0.8"/>
<circle cx="171.5" cy="244.5" r="6.85" fill="#fbfbfb" stroke="#333" stroke-width="0.6"/>
<path d="M163.9,243.55 H170.55 V240.4 H172.45 V243.55 H179.1 V245.45 H172.45 V248.6 H170.55 V245.45 H163.9 Z" fill="#fff" stroke="#2a2a2a" stroke-width="0.8"/>
<circle cx="171.5" cy="244.5" r="2.0" fill="#fff" stroke="#2a2a2a" stroke-width="1.0"/>
<rect x="186.25" y="234.08" width="16.7" height="20.23" fill="url(#hatch)" stroke="#111" stroke-width="0.8"/>
<circle cx="194.5" cy="244.5" r="6.85" fill="#fbfbfb" stroke="#333" stroke-width="0.6"/>
<path d="M186.9,243.55 H193.55 V240.4 H195.45 V243.55 H202.1 V245.45 H195.45 V248.6 H193.55 V245.45 H186.9 Z" fill="#fff" stroke="#2a2a2a" stroke-width="0.8"/>
<circle cx="194.5" cy="244.5" r="2.0" fill="#fff" stroke="#2a2a2a" stroke-width="1.0"/>
<line x1="152.05" y1="260.61" x2="152.05" y2="280.84" stroke="#8a8a8a" stroke-width="1.0" />
<line x1="157.15" y1="260.61" x2="157.15" y2="280.84" stroke="#8a8a8a" stroke-width="0.9" />
<line x1="213.45" y1="260.61" x2="213.45" y2="280.84" stroke="#8a8a8a" stroke-width="1.0" />
<line x1="208.35" y1="260.61" x2="208.35" y2="280.84" stroke="#8a8a8a" stroke-width="0.9" />
<rect x="160.75" y="260.61" width="3.2" height="20.23" fill="#9a9a9a"/>
<rect x="203.95" y="260.61" width="1.7" height="20.23" fill="#a0a0a0"/>
<rect x="164.15" y="260.61" width="15.1" height="20.23" fill="url(#hatch)" stroke="#111" stroke-width="0.8"/>
<circle cx="171.5" cy="270.5" r="6.85" fill="#fbfbfb" stroke="#333" stroke-width="0.6"/>
<path d="M163.9,269.55 H170.55 V266.4 H172.45 V269.55 H179.1 V271.45 H172.45 V274.6 H170.55 V271.45 H163.9 Z" fill="#fff" stroke="#2a2a2a" stroke-width="0.8"/>
<circle cx="171.5" cy="270.5" r="2.0" fill="#fff" stroke="#2a2a2a" stroke-width="1.0"/>
<rect x="186.25" y="260.61" width="16.7" height="20.23" fill="url(#hatch)" stroke="#111" stroke-width="0.8"/>
<circle cx="194.5" cy="270.5" r="6.85" fill="#fbfbfb" stroke="#333" stroke-width="0.6"/>
<path d="M186.9,269.55 H193.55 V266.4 H195.45 V269.55 H202.1 V271.45 H195.45 V274.6 H193.55 V271.45 H186.9 Z" fill="#fff" stroke="#2a2a2a" stroke-width="0.8"/>
<circle cx="194.5" cy="270.5" r="2.0" fill="#fff" stroke="#2a2a2a" stroke-width="1.0"/>
<line x1="152.05" y1="287.14" x2="152.05" y2="307.37" stroke="#8a8a8a" stroke-width="1.0" />
<line x1="157.15" y1="287.14" x2="157.15" y2="307.37" stroke="#8a8a8a" stroke-width="0.9" />
<line x1="213.45" y1="287.14" x2="213.45" y2="307.37" stroke="#8a8a8a" stroke-width="1.0" />
<line x1="208.35" y1="287.14" x2="208.35" y2="307.37" stroke="#8a8a8a" stroke-width="0.9" />
<rect x="160.75" y="287.14" width="3.2" height="20.23" fill="#9a9a9a"/>
<rect x="203.95" y="287.14" width="1.7" height="20.23" fill="#a0a0a0"/>
<rect x="164.15" y="287.14" width="15.1" height="20.23" fill="url(#hatch)" stroke="#111" stroke-width="0.8"/>
<circle cx="171.5" cy="297.5" r="6.85" fill="#fbfbfb" stroke="#333" stroke-width="0.6"/>
<path d="M163.9,296.55 H170.55 V293.4 H172.45 V296.55 H179.1 V298.45 H172.45 V301.6 H170.55 V298.45 H163.9 Z" fill="#fff" stroke="#2a2a2a" stroke-width="0.8"/>
<circle cx="171.5" cy="297.5" r="2.0" fill="#fff" stroke="#2a2a2a" stroke-width="1.0"/>
<rect x="186.25" y="287.14" width="16.7" height="20.23" fill="url(#hatch)" stroke="#111" stroke-width="0.8"/>
<circle cx="194.5" cy="297.5" r="6.85" fill="#fbfbfb" stroke="#333" stroke-width="0.6"/>
<path d="M186.9,296.55 H193.55 V293.4 H195.45 V296.55 H202.1 V298.45 H195.45 V301.6 H193.55 V298.45 H186.9 Z" fill="#fff" stroke="#2a2a2a" stroke-width="0.8"/>
<circle cx="194.5" cy="297.5" r="2.0" fill="#fff" stroke="#2a2a2a" stroke-width="1.0"/>
<line x1="152.05" y1="313.67" x2="152.05" y2="333.9" stroke="#8a8a8a" stroke-width="1.0" />
<line x1="157.15" y1="313.67" x2="157.15" y2="333.9" stroke="#8a8a8a" stroke-width="0.9" />
<line x1="213.45" y1="313.67" x2="213.45" y2="333.9" stroke="#8a8a8a" stroke-width="1.0" />
<line x1="208.35" y1="313.67" x2="208.35" y2="333.9" stroke="#8a8a8a" stroke-width="0.9" />
<rect x="160.75" y="313.67" width="3.2" height="20.23" fill="#9a9a9a"/>
<rect x="203.95" y="313.67" width="1.7" height="20.23" fill="#a0a0a0"/>
<rect x="164.15" y="313.67" width="15.1" height="20.23" fill="url(#hatch)" stroke="#111" stroke-width="0.8"/>
<circle cx="171.5" cy="323.5" r="6.85" fill="#fbfbfb" stroke="#333" stroke-width="0.6"/>
<path d="M163.9,322.55 H170.55 V319.4 H172.45 V322.55 H179.1 V324.45 H172.45 V327.6 H170.55 V324.45 H163.9 Z" fill="#fff" stroke="#2a2a2a" stroke-width="0.8"/>
<circle cx="171.5" cy="323.5" r="2.0" fill="#fff" stroke="#2a2a2a" stroke-width="1.0"/>
<rect x="186.25" y="313.67" width="16.7" height="20.23" fill="url(#hatch)" stroke="#111" stroke-width="0.8"/>
<circle cx="194.5" cy="323.5" r="6.85" fill="#fbfbfb" stroke="#333" stroke-width="0.6"/>
<path d="M186.9,322.55 H193.55 V319.4 H195.45 V322.55 H202.1 V324.45 H195.45 V327.6 H193.55 V324.45 H186.9 Z" fill="#fff" stroke="#2a2a2a" stroke-width="0.8"/>
<circle cx="194.5" cy="323.5" r="2.0" fill="#fff" stroke="#2a2a2a" stroke-width="1.0"/>
<rect x="151.75" y="68.6" width="62" height="6.3" rx="2.4" fill="#fff" stroke="#111" stroke-width="1.1"/>
<line x1="152.05" y1="71.9" x2="213.45" y2="71.9" stroke="#222" stroke-width="0.9" />
<line x1="158.15" y1="68.6" x2="158.15" y2="74.9" stroke="#333" stroke-width="0.75" />
<line x1="208.35" y1="68.6" x2="208.35" y2="74.9" stroke="#333" stroke-width="0.75" />
<rect x="151.75" y="95.13" width="62" height="6.3" rx="2.4" fill="#fff" stroke="#111" stroke-width="1.1"/>
<line x1="152.05" y1="98.43" x2="213.45" y2="98.43" stroke="#222" stroke-width="0.9" />
<line x1="158.15" y1="95.13" x2="158.15" y2="101.43" stroke="#333" stroke-width="0.75" />
<line x1="208.35" y1="95.13" x2="208.35" y2="101.43" stroke="#333" stroke-width="0.75" />
<rect x="151.75" y="121.66" width="62" height="6.3" rx="2.4" fill="#fff" stroke="#111" stroke-width="1.1"/>
<line x1="152.05" y1="124.96" x2="213.45" y2="124.96" stroke="#222" stroke-width="0.9" />
<line x1="158.15" y1="121.66" x2="158.15" y2="127.96" stroke="#333" stroke-width="0.75" />
<line x1="208.35" y1="121.66" x2="208.35" y2="127.96" stroke="#333" stroke-width="0.75" />
<rect x="151.75" y="148.19" width="62" height="6.3" rx="2.4" fill="#fff" stroke="#111" stroke-width="1.1"/>
<line x1="152.05" y1="151.49" x2="213.45" y2="151.49" stroke="#222" stroke-width="0.9" />
<line x1="158.15" y1="148.19" x2="158.15" y2="154.49" stroke="#333" stroke-width="0.75" />
<line x1="208.35" y1="148.19" x2="208.35" y2="154.49" stroke="#333" stroke-width="0.75" />
<rect x="151.75" y="174.72" width="62" height="6.3" rx="2.4" fill="#fff" stroke="#111" stroke-width="1.1"/>
<line x1="152.05" y1="178.02" x2="213.45" y2="178.02" stroke="#222" stroke-width="0.9" />
<line x1="158.15" y1="174.72" x2="158.15" y2="181.02" stroke="#333" stroke-width="0.75" />
<line x1="208.35" y1="174.72" x2="208.35" y2="181.02" stroke="#333" stroke-width="0.75" />
<rect x="151.75" y="201.25" width="62" height="6.3" rx="2.4" fill="#fff" stroke="#111" stroke-width="1.1"/>
<line x1="152.05" y1="204.55" x2="213.45" y2="204.55" stroke="#222" stroke-width="0.9" />
<line x1="158.15" y1="201.25" x2="158.15" y2="207.55" stroke="#333" stroke-width="0.75" />
<line x1="208.35" y1="201.25" x2="208.35" y2="207.55" stroke="#333" stroke-width="0.75" />
<rect x="151.75" y="227.78" width="62" height="6.3" rx="2.4" fill="#fff" stroke="#111" stroke-width="1.1"/>
<line x1="152.05" y1="231.08" x2="213.45" y2="231.08" stroke="#222" stroke-width="0.9" />
<line x1="158.15" y1="227.78" x2="158.15" y2="234.08" stroke="#333" stroke-width="0.75" />
<line x1="208.35" y1="227.78" x2="208.35" y2="234.08" stroke="#333" stroke-width="0.75" />
<rect x="151.75" y="254.31" width="62" height="6.3" rx="2.4" fill="#fff" stroke="#111" stroke-width="1.1"/>
<line x1="152.05" y1="257.61" x2="213.45" y2="257.61" stroke="#222" stroke-width="0.9" />
<line x1="158.15" y1="254.31" x2="158.15" y2="260.61" stroke="#333" stroke-width="0.75" />
<line x1="208.35" y1="254.31" x2="208.35" y2="260.61" stroke="#333" stroke-width="0.75" />
<rect x="151.75" y="280.84" width="62" height="6.3" rx="2.4" fill="#fff" stroke="#111" stroke-width="1.1"/>
<line x1="152.05" y1="284.14" x2="213.45" y2="284.14" stroke="#222" stroke-width="0.9" />
<line x1="158.15" y1="280.84" x2="158.15" y2="287.14" stroke="#333" stroke-width="0.75" />
<line x1="208.35" y1="280.84" x2="208.35" y2="287.14" stroke="#333" stroke-width="0.75" />
<rect x="151.75" y="307.37" width="62" height="6.3" rx="2.4" fill="#fff" stroke="#111" stroke-width="1.1"/>
<line x1="152.05" y1="310.67" x2="213.45" y2="310.67" stroke="#222" stroke-width="0.9" />
<line x1="158.15" y1="307.37" x2="158.15" y2="313.67" stroke="#333" stroke-width="0.75" />
<line x1="208.35" y1="307.37" x2="208.35" y2="313.67" stroke="#333" stroke-width="0.75" />
<rect x="151.75" y="333.9" width="62" height="6.3" rx="2.4" fill="#fff" stroke="#111" stroke-width="1.1"/>
<line x1="152.05" y1="337.2" x2="213.45" y2="337.2" stroke="#222" stroke-width="0.9" />
<line x1="158.15" y1="333.9" x2="158.15" y2="340.2" stroke="#333" stroke-width="0.75" />
<line x1="208.35" y1="333.9" x2="208.35" y2="340.2" stroke="#333" stroke-width="0.75" />
<path d="M161.85,68.6 V51.5 Q161.85,48.5 164.85,48.5 H201.05 Q204.05,48.5 204.05,51.5 V68.6" fill="#fff" stroke="#222" stroke-width="0.9"/>
<line x1="166.55" y1="58.8" x2="175.75" y2="58.8" stroke="#999" stroke-width="0.6" />
<line x1="171.15" y1="54.2" x2="171.15" y2="63.4" stroke="#888" stroke-width="0.6" />
<circle cx="171.15" cy="58.8" r="4.9" fill="none" stroke="#333" stroke-width="0.85"/>
<line x1="190.1" y1="58.8" x2="199.3" y2="58.8" stroke="#999" stroke-width="0.6" />
<line x1="194.7" y1="54.2" x2="194.7" y2="63.4" stroke="#888" stroke-width="0.6" />
<circle cx="194.7" cy="58.8" r="4.9" fill="none" stroke="#333" stroke-width="0.85"/>
<rect x="178.1" y="52.9" width="9.6" height="11.8" rx="4.5" ry="5.2" fill="none" stroke="#333" stroke-width="0.85"/>
<path d="M161.85,340.2 V357.5 Q161.85,360.5 164.85,360.5 H201.05 Q204.05,360.5 204.05,357.5 V340.2" fill="#fff" stroke="#222" stroke-width="0.9"/>
<line x1="166.55" y1="350" x2="175.75" y2="350" stroke="#999" stroke-width="0.6" />
<line x1="171.15" y1="345.4" x2="171.15" y2="354.6" stroke="#888" stroke-width="0.6" />
<circle cx="171.15" cy="350" r="4.9" fill="none" stroke="#333" stroke-width="0.85"/>
<line x1="190.1" y1="350" x2="199.3" y2="350" stroke="#999" stroke-width="0.6" />
<line x1="194.7" y1="345.4" x2="194.7" y2="354.6" stroke="#888" stroke-width="0.6" />
<circle cx="194.7" cy="350" r="4.9" fill="none" stroke="#333" stroke-width="0.85"/>
<rect x="178.1" y="344.1" width="9.6" height="11.8" rx="4.5" ry="5.2" fill="none" stroke="#333" stroke-width="0.85"/>
<text x="182.5" y="371.2" font-size="8.6" text-anchor="middle" fill="#333" font-weight="normal" textLength="32.6" lengthAdjust="spacingAndGlyphs" >PN 2510</text>
<line x1="166.2" y1="372.4" x2="198.8" y2="372.4" stroke="#555" stroke-width="0.6" />
<line x1="227.8" y1="74.9" x2="227.8" y2="95.13" stroke="#8a8a8a" stroke-width="1.0" />
<line x1="232.9" y1="74.9" x2="232.9" y2="95.13" stroke="#8a8a8a" stroke-width="0.9" />
<line x1="289.2" y1="74.9" x2="289.2" y2="95.13" stroke="#8a8a8a" stroke-width="1.0" />
<line x1="284.1" y1="74.9" x2="284.1" y2="95.13" stroke="#8a8a8a" stroke-width="0.9" />
<rect x="236.5" y="74.9" width="3.2" height="20.23" fill="#9a9a9a"/>
<rect x="279.7" y="74.9" width="1.7" height="20.23" fill="#a0a0a0"/>
<rect x="239.9" y="74.9" width="15.1" height="20.23" fill="url(#hatch)" stroke="#111" stroke-width="0.8"/>
<circle cx="246.5" cy="85.5" r="6.85" fill="#fbfbfb" stroke="#333" stroke-width="0.6"/>
<path d="M238.9,84.55 H245.55 V81.4 H247.45 V84.55 H254.1 V86.45 H247.45 V89.6 H245.55 V86.45 H238.9 Z" fill="#fff" stroke="#2a2a2a" stroke-width="0.8"/>
<circle cx="246.5" cy="85.5" r="2.0" fill="#fff" stroke="#2a2a2a" stroke-width="1.0"/>
<rect x="262" y="74.9" width="16.7" height="20.23" fill="url(#hatch)" stroke="#111" stroke-width="0.8"/>
<circle cx="270.5" cy="85.5" r="6.85" fill="#fbfbfb" stroke="#333" stroke-width="0.6"/>
<path d="M262.9,84.55 H269.55 V81.4 H271.45 V84.55 H278.1 V86.45 H271.45 V89.6 H269.55 V86.45 H262.9 Z" fill="#fff" stroke="#2a2a2a" stroke-width="0.8"/>
<circle cx="270.5" cy="85.5" r="2.0" fill="#fff" stroke="#2a2a2a" stroke-width="1.0"/>
<line x1="227.8" y1="101.43" x2="227.8" y2="121.66" stroke="#8a8a8a" stroke-width="1.0" />
<line x1="232.9" y1="101.43" x2="232.9" y2="121.66" stroke="#8a8a8a" stroke-width="0.9" />
<line x1="289.2" y1="101.43" x2="289.2" y2="121.66" stroke="#8a8a8a" stroke-width="1.0" />
<line x1="284.1" y1="101.43" x2="284.1" y2="121.66" stroke="#8a8a8a" stroke-width="0.9" />
<rect x="236.5" y="101.43" width="3.2" height="20.23" fill="#9a9a9a"/>
<rect x="279.7" y="101.43" width="1.7" height="20.23" fill="#a0a0a0"/>
<rect x="239.9" y="101.43" width="15.1" height="20.23" fill="url(#hatch)" stroke="#111" stroke-width="0.8"/>
<circle cx="246.5" cy="111.5" r="6.85" fill="#fbfbfb" stroke="#333" stroke-width="0.6"/>
<path d="M238.9,110.55 H245.55 V107.4 H247.45 V110.55 H254.1 V112.45 H247.45 V115.6 H245.55 V112.45 H238.9 Z" fill="#fff" stroke="#2a2a2a" stroke-width="0.8"/>
<circle cx="246.5" cy="111.5" r="2.0" fill="#fff" stroke="#2a2a2a" stroke-width="1.0"/>
<rect x="262" y="101.43" width="16.7" height="20.23" fill="url(#hatch)" stroke="#111" stroke-width="0.8"/>
<circle cx="270.5" cy="111.5" r="6.85" fill="#fbfbfb" stroke="#333" stroke-width="0.6"/>
<path d="M262.9,110.55 H269.55 V107.4 H271.45 V110.55 H278.1 V112.45 H271.45 V115.6 H269.55 V112.45 H262.9 Z" fill="#fff" stroke="#2a2a2a" stroke-width="0.8"/>
<circle cx="270.5" cy="111.5" r="2.0" fill="#fff" stroke="#2a2a2a" stroke-width="1.0"/>
<line x1="227.8" y1="127.96" x2="227.8" y2="148.19" stroke="#8a8a8a" stroke-width="1.0" />
<line x1="232.9" y1="127.96" x2="232.9" y2="148.19" stroke="#8a8a8a" stroke-width="0.9" />
<line x1="289.2" y1="127.96" x2="289.2" y2="148.19" stroke="#8a8a8a" stroke-width="1.0" />
<line x1="284.1" y1="127.96" x2="284.1" y2="148.19" stroke="#8a8a8a" stroke-width="0.9" />
<rect x="236.5" y="127.96" width="3.2" height="20.23" fill="#9a9a9a"/>
<rect x="279.7" y="127.96" width="1.7" height="20.23" fill="#a0a0a0"/>
<rect x="239.9" y="127.96" width="15.1" height="20.23" fill="url(#hatch)" stroke="#111" stroke-width="0.8"/>
<circle cx="246.5" cy="138.5" r="6.85" fill="#fbfbfb" stroke="#333" stroke-width="0.6"/>
<path d="M238.9,137.55 H245.55 V134.4 H247.45 V137.55 H254.1 V139.45 H247.45 V142.6 H245.55 V139.45 H238.9 Z" fill="#fff" stroke="#2a2a2a" stroke-width="0.8"/>
<circle cx="246.5" cy="138.5" r="2.0" fill="#fff" stroke="#2a2a2a" stroke-width="1.0"/>
<rect x="262" y="127.96" width="16.7" height="20.23" fill="url(#hatch)" stroke="#111" stroke-width="0.8"/>
<circle cx="270.5" cy="138.5" r="6.85" fill="#fbfbfb" stroke="#333" stroke-width="0.6"/>
<path d="M262.9,137.55 H269.55 V134.4 H271.45 V137.55 H278.1 V139.45 H271.45 V142.6 H269.55 V139.45 H262.9 Z" fill="#fff" stroke="#2a2a2a" stroke-width="0.8"/>
<circle cx="270.5" cy="138.5" r="2.0" fill="#fff" stroke="#2a2a2a" stroke-width="1.0"/>
<line x1="227.8" y1="154.49" x2="227.8" y2="174.72" stroke="#8a8a8a" stroke-width="1.0" />
<line x1="232.9" y1="154.49" x2="232.9" y2="174.72" stroke="#8a8a8a" stroke-width="0.9" />
<line x1="289.2" y1="154.49" x2="289.2" y2="174.72" stroke="#8a8a8a" stroke-width="1.0" />
<line x1="284.1" y1="154.49" x2="284.1" y2="174.72" stroke="#8a8a8a" stroke-width="0.9" />
<rect x="236.5" y="154.49" width="3.2" height="20.23" fill="#9a9a9a"/>
<rect x="279.7" y="154.49" width="1.7" height="20.23" fill="#a0a0a0"/>
<rect x="239.9" y="154.49" width="15.1" height="20.23" fill="url(#hatch)" stroke="#111" stroke-width="0.8"/>
<circle cx="246.5" cy="164.5" r="6.85" fill="#fbfbfb" stroke="#333" stroke-width="0.6"/>
<path d="M238.9,163.55 H245.55 V160.4 H247.45 V163.55 H254.1 V165.45 H247.45 V168.6 H245.55 V165.45 H238.9 Z" fill="#fff" stroke="#2a2a2a" stroke-width="0.8"/>
<circle cx="246.5" cy="164.5" r="2.0" fill="#fff" stroke="#2a2a2a" stroke-width="1.0"/>
<rect x="262" y="154.49" width="16.7" height="20.23" fill="url(#hatch)" stroke="#111" stroke-width="0.8"/>
<circle cx="270.5" cy="164.5" r="6.85" fill="#fbfbfb" stroke="#333" stroke-width="0.6"/>
<path d="M262.9,163.55 H269.55 V160.4 H271.45 V163.55 H278.1 V165.45 H271.45 V168.6 H269.55 V165.45 H262.9 Z" fill="#fff" stroke="#2a2a2a" stroke-width="0.8"/>
<circle cx="270.5" cy="164.5" r="2.0" fill="#fff" stroke="#2a2a2a" stroke-width="1.0"/>
<line x1="227.8" y1="181.02" x2="227.8" y2="201.25" stroke="#8a8a8a" stroke-width="1.0" />
<line x1="232.9" y1="181.02" x2="232.9" y2="201.25" stroke="#8a8a8a" stroke-width="0.9" />
<line x1="289.2" y1="181.02" x2="289.2" y2="201.25" stroke="#8a8a8a" stroke-width="1.0" />
<line x1="284.1" y1="181.02" x2="284.1" y2="201.25" stroke="#8a8a8a" stroke-width="0.9" />
<rect x="236.5" y="181.02" width="3.2" height="20.23" fill="#9a9a9a"/>
<rect x="279.7" y="181.02" width="1.7" height="20.23" fill="#a0a0a0"/>
<rect x="239.9" y="181.02" width="15.1" height="20.23" fill="url(#hatch)" stroke="#111" stroke-width="0.8"/>
<circle cx="246.5" cy="191.5" r="6.85" fill="#fbfbfb" stroke="#333" stroke-width="0.6"/>
<path d="M238.9,190.55 H245.55 V187.4 H247.45 V190.55 H254.1 V192.45 H247.45 V195.6 H245.55 V192.45 H238.9 Z" fill="#fff" stroke="#2a2a2a" stroke-width="0.8"/>
<circle cx="246.5" cy="191.5" r="2.0" fill="#fff" stroke="#2a2a2a" stroke-width="1.0"/>
<rect x="262" y="181.02" width="16.7" height="20.23" fill="url(#hatch)" stroke="#111" stroke-width="0.8"/>
<circle cx="270.5" cy="191.5" r="6.85" fill="#fbfbfb" stroke="#333" stroke-width="0.6"/>
<path d="M262.9,190.55 H269.55 V187.4 H271.45 V190.55 H278.1 V192.45 H271.45 V195.6 H269.55 V192.45 H262.9 Z" fill="#fff" stroke="#2a2a2a" stroke-width="0.8"/>
<circle cx="270.5" cy="191.5" r="2.0" fill="#fff" stroke="#2a2a2a" stroke-width="1.0"/>
<line x1="227.8" y1="207.55" x2="227.8" y2="227.78" stroke="#8a8a8a" stroke-width="1.0" />
<line x1="232.9" y1="207.55" x2="232.9" y2="227.78" stroke="#8a8a8a" stroke-width="0.9" />
<line x1="289.2" y1="207.55" x2="289.2" y2="227.78" stroke="#8a8a8a" stroke-width="1.0" />
<line x1="284.1" y1="207.55" x2="284.1" y2="227.78" stroke="#8a8a8a" stroke-width="0.9" />
<rect x="236.5" y="207.55" width="3.2" height="20.23" fill="#9a9a9a"/>
<rect x="279.7" y="207.55" width="1.7" height="20.23" fill="#a0a0a0"/>
<rect x="239.9" y="207.55" width="15.1" height="20.23" fill="url(#hatch)" stroke="#111" stroke-width="0.8"/>
<circle cx="246.5" cy="217.5" r="6.85" fill="#fbfbfb" stroke="#333" stroke-width="0.6"/>
<path d="M238.9,216.55 H245.55 V213.4 H247.45 V216.55 H254.1 V218.45 H247.45 V221.6 H245.55 V218.45 H238.9 Z" fill="#fff" stroke="#2a2a2a" stroke-width="0.8"/>
<circle cx="246.5" cy="217.5" r="2.0" fill="#fff" stroke="#2a2a2a" stroke-width="1.0"/>
<rect x="262" y="207.55" width="16.7" height="20.23" fill="url(#hatch)" stroke="#111" stroke-width="0.8"/>
<circle cx="270.5" cy="217.5" r="6.85" fill="#fbfbfb" stroke="#333" stroke-width="0.6"/>
<path d="M262.9,216.55 H269.55 V213.4 H271.45 V216.55 H278.1 V218.45 H271.45 V221.6 H269.55 V218.45 H262.9 Z" fill="#fff" stroke="#2a2a2a" stroke-width="0.8"/>
<circle cx="270.5" cy="217.5" r="2.0" fill="#fff" stroke="#2a2a2a" stroke-width="1.0"/>
<line x1="227.8" y1="234.08" x2="227.8" y2="254.31" stroke="#8a8a8a" stroke-width="1.0" />
<line x1="232.9" y1="234.08" x2="232.9" y2="254.31" stroke="#8a8a8a" stroke-width="0.9" />
<line x1="289.2" y1="234.08" x2="289.2" y2="254.31" stroke="#8a8a8a" stroke-width="1.0" />
<line x1="284.1" y1="234.08" x2="284.1" y2="254.31" stroke="#8a8a8a" stroke-width="0.9" />
<rect x="236.5" y="234.08" width="3.2" height="20.23" fill="#9a9a9a"/>
<rect x="279.7" y="234.08" width="1.7" height="20.23" fill="#a0a0a0"/>
<rect x="239.9" y="234.08" width="15.1" height="20.23" fill="url(#hatch)" stroke="#111" stroke-width="0.8"/>
<circle cx="246.5" cy="244.5" r="6.85" fill="#fbfbfb" stroke="#333" stroke-width="0.6"/>
<path d="M238.9,243.55 H245.55 V240.4 H247.45 V243.55 H254.1 V245.45 H247.45 V248.6 H245.55 V245.45 H238.9 Z" fill="#fff" stroke="#2a2a2a" stroke-width="0.8"/>
<circle cx="246.5" cy="244.5" r="2.0" fill="#fff" stroke="#2a2a2a" stroke-width="1.0"/>
<rect x="262" y="234.08" width="16.7" height="20.23" fill="url(#hatch)" stroke="#111" stroke-width="0.8"/>
<circle cx="270.5" cy="244.5" r="6.85" fill="#fbfbfb" stroke="#333" stroke-width="0.6"/>
<path d="M262.9,243.55 H269.55 V240.4 H271.45 V243.55 H278.1 V245.45 H271.45 V248.6 H269.55 V245.45 H262.9 Z" fill="#fff" stroke="#2a2a2a" stroke-width="0.8"/>
<circle cx="270.5" cy="244.5" r="2.0" fill="#fff" stroke="#2a2a2a" stroke-width="1.0"/>
<line x1="227.8" y1="260.61" x2="227.8" y2="280.84" stroke="#8a8a8a" stroke-width="1.0" />
<line x1="232.9" y1="260.61" x2="232.9" y2="280.84" stroke="#8a8a8a" stroke-width="0.9" />
<line x1="289.2" y1="260.61" x2="289.2" y2="280.84" stroke="#8a8a8a" stroke-width="1.0" />
<line x1="284.1" y1="260.61" x2="284.1" y2="280.84" stroke="#8a8a8a" stroke-width="0.9" />
<rect x="236.5" y="260.61" width="3.2" height="20.23" fill="#9a9a9a"/>
<rect x="279.7" y="260.61" width="1.7" height="20.23" fill="#a0a0a0"/>
<rect x="239.9" y="260.61" width="15.1" height="20.23" fill="url(#hatch)" stroke="#111" stroke-width="0.8"/>
<circle cx="246.5" cy="270.5" r="6.85" fill="#fbfbfb" stroke="#333" stroke-width="0.6"/>
<path d="M238.9,269.55 H245.55 V266.4 H247.45 V269.55 H254.1 V271.45 H247.45 V274.6 H245.55 V271.45 H238.9 Z" fill="#fff" stroke="#2a2a2a" stroke-width="0.8"/>
<circle cx="246.5" cy="270.5" r="2.0" fill="#fff" stroke="#2a2a2a" stroke-width="1.0"/>
<rect x="262" y="260.61" width="16.7" height="20.23" fill="url(#hatch)" stroke="#111" stroke-width="0.8"/>
<circle cx="270.5" cy="270.5" r="6.85" fill="#fbfbfb" stroke="#333" stroke-width="0.6"/>
<path d="M262.9,269.55 H269.55 V266.4 H271.45 V269.55 H278.1 V271.45 H271.45 V274.6 H269.55 V271.45 H262.9 Z" fill="#fff" stroke="#2a2a2a" stroke-width="0.8"/>
<circle cx="270.5" cy="270.5" r="2.0" fill="#fff" stroke="#2a2a2a" stroke-width="1.0"/>
<rect x="227.5" y="68.6" width="62" height="6.3" rx="2.4" fill="#fff" stroke="#111" stroke-width="1.1"/>
<line x1="227.8" y1="71.9" x2="289.2" y2="71.9" stroke="#222" stroke-width="0.9" />
<line x1="233.9" y1="68.6" x2="233.9" y2="74.9" stroke="#333" stroke-width="0.75" />
<line x1="284.1" y1="68.6" x2="284.1" y2="74.9" stroke="#333" stroke-width="0.75" />
<rect x="227.5" y="95.13" width="62" height="6.3" rx="2.4" fill="#fff" stroke="#111" stroke-width="1.1"/>
<line x1="227.8" y1="98.43" x2="289.2" y2="98.43" stroke="#222" stroke-width="0.9" />
<line x1="233.9" y1="95.13" x2="233.9" y2="101.43" stroke="#333" stroke-width="0.75" />
<line x1="284.1" y1="95.13" x2="284.1" y2="101.43" stroke="#333" stroke-width="0.75" />
<rect x="227.5" y="121.66" width="62" height="6.3" rx="2.4" fill="#fff" stroke="#111" stroke-width="1.1"/>
<line x1="227.8" y1="124.96" x2="289.2" y2="124.96" stroke="#222" stroke-width="0.9" />
<line x1="233.9" y1="121.66" x2="233.9" y2="127.96" stroke="#333" stroke-width="0.75" />
<line x1="284.1" y1="121.66" x2="284.1" y2="127.96" stroke="#333" stroke-width="0.75" />
<rect x="227.5" y="148.19" width="62" height="6.3" rx="2.4" fill="#fff" stroke="#111" stroke-width="1.1"/>
<line x1="227.8" y1="151.49" x2="289.2" y2="151.49" stroke="#222" stroke-width="0.9" />
<line x1="233.9" y1="148.19" x2="233.9" y2="154.49" stroke="#333" stroke-width="0.75" />
<line x1="284.1" y1="148.19" x2="284.1" y2="154.49" stroke="#333" stroke-width="0.75" />
<rect x="227.5" y="174.72" width="62" height="6.3" rx="2.4" fill="#fff" stroke="#111" stroke-width="1.1"/>
<line x1="227.8" y1="178.02" x2="289.2" y2="178.02" stroke="#222" stroke-width="0.9" />
<line x1="233.9" y1="174.72" x2="233.9" y2="181.02" stroke="#333" stroke-width="0.75" />
<line x1="284.1" y1="174.72" x2="284.1" y2="181.02" stroke="#333" stroke-width="0.75" />
<rect x="227.5" y="201.25" width="62" height="6.3" rx="2.4" fill="#fff" stroke="#111" stroke-width="1.1"/>
<line x1="227.8" y1="204.55" x2="289.2" y2="204.55" stroke="#222" stroke-width="0.9" />
<line x1="233.9" y1="201.25" x2="233.9" y2="207.55" stroke="#333" stroke-width="0.75" />
<line x1="284.1" y1="201.25" x2="284.1" y2="207.55" stroke="#333" stroke-width="0.75" />
<rect x="227.5" y="227.78" width="62" height="6.3" rx="2.4" fill="#fff" stroke="#111" stroke-width="1.1"/>
<line x1="227.8" y1="231.08" x2="289.2" y2="231.08" stroke="#222" stroke-width="0.9" />
<line x1="233.9" y1="227.78" x2="233.9" y2="234.08" stroke="#333" stroke-width="0.75" />
<line x1="284.1" y1="227.78" x2="284.1" y2="234.08" stroke="#333" stroke-width="0.75" />
<rect x="227.5" y="254.31" width="62" height="6.3" rx="2.4" fill="#fff" stroke="#111" stroke-width="1.1"/>
<line x1="227.8" y1="257.61" x2="289.2" y2="257.61" stroke="#222" stroke-width="0.9" />
<line x1="233.9" y1="254.31" x2="233.9" y2="260.61" stroke="#333" stroke-width="0.75" />
<line x1="284.1" y1="254.31" x2="284.1" y2="260.61" stroke="#333" stroke-width="0.75" />
<rect x="227.5" y="280.84" width="62" height="6.3" rx="2.4" fill="#fff" stroke="#111" stroke-width="1.1"/>
<line x1="227.8" y1="284.14" x2="289.2" y2="284.14" stroke="#222" stroke-width="0.9" />
<line x1="233.9" y1="280.84" x2="233.9" y2="287.14" stroke="#333" stroke-width="0.75" />
<line x1="284.1" y1="280.84" x2="284.1" y2="287.14" stroke="#333" stroke-width="0.75" />
<path d="M237.6,68.6 V51.5 Q237.6,48.5 240.6,48.5 H276.8 Q279.8,48.5 279.8,51.5 V68.6" fill="#fff" stroke="#222" stroke-width="0.9"/>
<line x1="242.3" y1="58.8" x2="251.5" y2="58.8" stroke="#999" stroke-width="0.6" />
<line x1="246.9" y1="54.2" x2="246.9" y2="63.4" stroke="#888" stroke-width="0.6" />
<circle cx="246.9" cy="58.8" r="4.9" fill="none" stroke="#333" stroke-width="0.85"/>
<line x1="265.85" y1="58.8" x2="275.05" y2="58.8" stroke="#999" stroke-width="0.6" />
<line x1="270.45" y1="54.2" x2="270.45" y2="63.4" stroke="#888" stroke-width="0.6" />
<circle cx="270.45" cy="58.8" r="4.9" fill="none" stroke="#333" stroke-width="0.85"/>
<rect x="253.85" y="52.9" width="9.6" height="11.8" rx="4.5" ry="5.2" fill="none" stroke="#333" stroke-width="0.85"/>
<path d="M237.6,287.14 V304.44 Q237.6,307.44 240.6,307.44 H276.8 Q279.8,307.44 279.8,304.44 V287.14" fill="#fff" stroke="#222" stroke-width="0.9"/>
<line x1="242.3" y1="296.94" x2="251.5" y2="296.94" stroke="#999" stroke-width="0.6" />
<line x1="246.9" y1="292.34" x2="246.9" y2="301.54" stroke="#888" stroke-width="0.6" />
<circle cx="246.9" cy="296.94" r="4.9" fill="none" stroke="#333" stroke-width="0.85"/>
<line x1="265.85" y1="296.94" x2="275.05" y2="296.94" stroke="#999" stroke-width="0.6" />
<line x1="270.45" y1="292.34" x2="270.45" y2="301.54" stroke="#888" stroke-width="0.6" />
<circle cx="270.45" cy="296.94" r="4.9" fill="none" stroke="#333" stroke-width="0.85"/>
<rect x="253.85" y="291.04" width="9.6" height="11.8" rx="4.5" ry="5.2" fill="none" stroke="#333" stroke-width="0.85"/>
<text x="259.6" y="318.1" font-size="8.6" text-anchor="middle" fill="#333" font-weight="normal" textLength="32.6" lengthAdjust="spacingAndGlyphs" >PN 2508</text>
<line x1="243.3" y1="319.3" x2="275.9" y2="319.3" stroke="#555" stroke-width="0.6" />
<line x1="303.55" y1="74.9" x2="303.55" y2="95.13" stroke="#8a8a8a" stroke-width="1.0" />
<line x1="308.65" y1="74.9" x2="308.65" y2="95.13" stroke="#8a8a8a" stroke-width="0.9" />
<line x1="364.95" y1="74.9" x2="364.95" y2="95.13" stroke="#8a8a8a" stroke-width="1.0" />
<line x1="359.85" y1="74.9" x2="359.85" y2="95.13" stroke="#8a8a8a" stroke-width="0.9" />
<rect x="312.25" y="74.9" width="3.2" height="20.23" fill="#9a9a9a"/>
<rect x="355.45" y="74.9" width="1.7" height="20.23" fill="#a0a0a0"/>
<rect x="315.65" y="74.9" width="15.1" height="20.23" fill="url(#hatch)" stroke="#111" stroke-width="0.8"/>
<circle cx="322.5" cy="85.5" r="6.85" fill="#fbfbfb" stroke="#333" stroke-width="0.6"/>
<path d="M314.9,84.55 H321.55 V81.4 H323.45 V84.55 H330.1 V86.45 H323.45 V89.6 H321.55 V86.45 H314.9 Z" fill="#fff" stroke="#2a2a2a" stroke-width="0.8"/>
<circle cx="322.5" cy="85.5" r="2.0" fill="#fff" stroke="#2a2a2a" stroke-width="1.0"/>
<rect x="337.75" y="74.9" width="16.7" height="20.23" fill="url(#hatch)" stroke="#111" stroke-width="0.8"/>
<circle cx="346.5" cy="85.5" r="6.85" fill="#fbfbfb" stroke="#333" stroke-width="0.6"/>
<path d="M338.9,84.55 H345.55 V81.4 H347.45 V84.55 H354.1 V86.45 H347.45 V89.6 H345.55 V86.45 H338.9 Z" fill="#fff" stroke="#2a2a2a" stroke-width="0.8"/>
<circle cx="346.5" cy="85.5" r="2.0" fill="#fff" stroke="#2a2a2a" stroke-width="1.0"/>
<line x1="303.55" y1="101.43" x2="303.55" y2="121.66" stroke="#8a8a8a" stroke-width="1.0" />
<line x1="308.65" y1="101.43" x2="308.65" y2="121.66" stroke="#8a8a8a" stroke-width="0.9" />
<line x1="364.95" y1="101.43" x2="364.95" y2="121.66" stroke="#8a8a8a" stroke-width="1.0" />
<line x1="359.85" y1="101.43" x2="359.85" y2="121.66" stroke="#8a8a8a" stroke-width="0.9" />
<rect x="312.25" y="101.43" width="3.2" height="20.23" fill="#9a9a9a"/>
<rect x="355.45" y="101.43" width="1.7" height="20.23" fill="#a0a0a0"/>
<rect x="315.65" y="101.43" width="15.1" height="20.23" fill="url(#hatch)" stroke="#111" stroke-width="0.8"/>
<circle cx="322.5" cy="111.5" r="6.85" fill="#fbfbfb" stroke="#333" stroke-width="0.6"/>
<path d="M314.9,110.55 H321.55 V107.4 H323.45 V110.55 H330.1 V112.45 H323.45 V115.6 H321.55 V112.45 H314.9 Z" fill="#fff" stroke="#2a2a2a" stroke-width="0.8"/>
<circle cx="322.5" cy="111.5" r="2.0" fill="#fff" stroke="#2a2a2a" stroke-width="1.0"/>
<rect x="337.75" y="101.43" width="16.7" height="20.23" fill="url(#hatch)" stroke="#111" stroke-width="0.8"/>
<circle cx="346.5" cy="111.5" r="6.85" fill="#fbfbfb" stroke="#333" stroke-width="0.6"/>
<path d="M338.9,110.55 H345.55 V107.4 H347.45 V110.55 H354.1 V112.45 H347.45 V115.6 H345.55 V112.45 H338.9 Z" fill="#fff" stroke="#2a2a2a" stroke-width="0.8"/>
<circle cx="346.5" cy="111.5" r="2.0" fill="#fff" stroke="#2a2a2a" stroke-width="1.0"/>
<line x1="303.55" y1="127.96" x2="303.55" y2="148.19" stroke="#8a8a8a" stroke-width="1.0" />
<line x1="308.65" y1="127.96" x2="308.65" y2="148.19" stroke="#8a8a8a" stroke-width="0.9" />
<line x1="364.95" y1="127.96" x2="364.95" y2="148.19" stroke="#8a8a8a" stroke-width="1.0" />
<line x1="359.85" y1="127.96" x2="359.85" y2="148.19" stroke="#8a8a8a" stroke-width="0.9" />
<rect x="312.25" y="127.96" width="3.2" height="20.23" fill="#9a9a9a"/>
<rect x="355.45" y="127.96" width="1.7" height="20.23" fill="#a0a0a0"/>
<rect x="315.65" y="127.96" width="15.1" height="20.23" fill="url(#hatch)" stroke="#111" stroke-width="0.8"/>
<circle cx="322.5" cy="138.5" r="6.85" fill="#fbfbfb" stroke="#333" stroke-width="0.6"/>
<path d="M314.9,137.55 H321.55 V134.4 H323.45 V137.55 H330.1 V139.45 H323.45 V142.6 H321.55 V139.45 H314.9 Z" fill="#fff" stroke="#2a2a2a" stroke-width="0.8"/>
<circle cx="322.5" cy="138.5" r="2.0" fill="#fff" stroke="#2a2a2a" stroke-width="1.0"/>
<rect x="337.75" y="127.96" width="16.7" height="20.23" fill="url(#hatch)" stroke="#111" stroke-width="0.8"/>
<circle cx="346.5" cy="138.5" r="6.85" fill="#fbfbfb" stroke="#333" stroke-width="0.6"/>
<path d="M338.9,137.55 H345.55 V134.4 H347.45 V137.55 H354.1 V139.45 H347.45 V142.6 H345.55 V139.45 H338.9 Z" fill="#fff" stroke="#2a2a2a" stroke-width="0.8"/>
<circle cx="346.5" cy="138.5" r="2.0" fill="#fff" stroke="#2a2a2a" stroke-width="1.0"/>
<line x1="303.55" y1="154.49" x2="303.55" y2="174.72" stroke="#8a8a8a" stroke-width="1.0" />
<line x1="308.65" y1="154.49" x2="308.65" y2="174.72" stroke="#8a8a8a" stroke-width="0.9" />
<line x1="364.95" y1="154.49" x2="364.95" y2="174.72" stroke="#8a8a8a" stroke-width="1.0" />
<line x1="359.85" y1="154.49" x2="359.85" y2="174.72" stroke="#8a8a8a" stroke-width="0.9" />
<rect x="312.25" y="154.49" width="3.2" height="20.23" fill="#9a9a9a"/>
<rect x="355.45" y="154.49" width="1.7" height="20.23" fill="#a0a0a0"/>
<rect x="315.65" y="154.49" width="15.1" height="20.23" fill="url(#hatch)" stroke="#111" stroke-width="0.8"/>
<circle cx="322.5" cy="164.5" r="6.85" fill="#fbfbfb" stroke="#333" stroke-width="0.6"/>
<path d="M314.9,163.55 H321.55 V160.4 H323.45 V163.55 H330.1 V165.45 H323.45 V168.6 H321.55 V165.45 H314.9 Z" fill="#fff" stroke="#2a2a2a" stroke-width="0.8"/>
<circle cx="322.5" cy="164.5" r="2.0" fill="#fff" stroke="#2a2a2a" stroke-width="1.0"/>
<rect x="337.75" y="154.49" width="16.7" height="20.23" fill="url(#hatch)" stroke="#111" stroke-width="0.8"/>
<circle cx="346.5" cy="164.5" r="6.85" fill="#fbfbfb" stroke="#333" stroke-width="0.6"/>
<path d="M338.9,163.55 H345.55 V160.4 H347.45 V163.55 H354.1 V165.45 H347.45 V168.6 H345.55 V165.45 H338.9 Z" fill="#fff" stroke="#2a2a2a" stroke-width="0.8"/>
<circle cx="346.5" cy="164.5" r="2.0" fill="#fff" stroke="#2a2a2a" stroke-width="1.0"/>
<line x1="303.55" y1="181.02" x2="303.55" y2="201.25" stroke="#8a8a8a" stroke-width="1.0" />
<line x1="308.65" y1="181.02" x2="308.65" y2="201.25" stroke="#8a8a8a" stroke-width="0.9" />
<line x1="364.95" y1="181.02" x2="364.95" y2="201.25" stroke="#8a8a8a" stroke-width="1.0" />
<line x1="359.85" y1="181.02" x2="359.85" y2="201.25" stroke="#8a8a8a" stroke-width="0.9" />
<rect x="312.25" y="181.02" width="3.2" height="20.23" fill="#9a9a9a"/>
<rect x="355.45" y="181.02" width="1.7" height="20.23" fill="#a0a0a0"/>
<rect x="315.65" y="181.02" width="15.1" height="20.23" fill="url(#hatch)" stroke="#111" stroke-width="0.8"/>
<circle cx="322.5" cy="191.5" r="6.85" fill="#fbfbfb" stroke="#333" stroke-width="0.6"/>
<path d="M314.9,190.55 H321.55 V187.4 H323.45 V190.55 H330.1 V192.45 H323.45 V195.6 H321.55 V192.45 H314.9 Z" fill="#fff" stroke="#2a2a2a" stroke-width="0.8"/>
<circle cx="322.5" cy="191.5" r="2.0" fill="#fff" stroke="#2a2a2a" stroke-width="1.0"/>
<rect x="337.75" y="181.02" width="16.7" height="20.23" fill="url(#hatch)" stroke="#111" stroke-width="0.8"/>
<circle cx="346.5" cy="191.5" r="6.85" fill="#fbfbfb" stroke="#333" stroke-width="0.6"/>
<path d="M338.9,190.55 H345.55 V187.4 H347.45 V190.55 H354.1 V192.45 H347.45 V195.6 H345.55 V192.45 H338.9 Z" fill="#fff" stroke="#2a2a2a" stroke-width="0.8"/>
<circle cx="346.5" cy="191.5" r="2.0" fill="#fff" stroke="#2a2a2a" stroke-width="1.0"/>
<line x1="303.55" y1="207.55" x2="303.55" y2="227.78" stroke="#8a8a8a" stroke-width="1.0" />
<line x1="308.65" y1="207.55" x2="308.65" y2="227.78" stroke="#8a8a8a" stroke-width="0.9" />
<line x1="364.95" y1="207.55" x2="364.95" y2="227.78" stroke="#8a8a8a" stroke-width="1.0" />
<line x1="359.85" y1="207.55" x2="359.85" y2="227.78" stroke="#8a8a8a" stroke-width="0.9" />
<rect x="312.25" y="207.55" width="3.2" height="20.23" fill="#9a9a9a"/>
<rect x="355.45" y="207.55" width="1.7" height="20.23" fill="#a0a0a0"/>
<rect x="315.65" y="207.55" width="15.1" height="20.23" fill="url(#hatch)" stroke="#111" stroke-width="0.8"/>
<circle cx="322.5" cy="217.5" r="6.85" fill="#fbfbfb" stroke="#333" stroke-width="0.6"/>
<path d="M314.9,216.55 H321.55 V213.4 H323.45 V216.55 H330.1 V218.45 H323.45 V221.6 H321.55 V218.45 H314.9 Z" fill="#fff" stroke="#2a2a2a" stroke-width="0.8"/>
<circle cx="322.5" cy="217.5" r="2.0" fill="#fff" stroke="#2a2a2a" stroke-width="1.0"/>
<rect x="337.75" y="207.55" width="16.7" height="20.23" fill="url(#hatch)" stroke="#111" stroke-width="0.8"/>
<circle cx="346.5" cy="217.5" r="6.85" fill="#fbfbfb" stroke="#333" stroke-width="0.6"/>
<path d="M338.9,216.55 H345.55 V213.4 H347.45 V216.55 H354.1 V218.45 H347.45 V221.6 H345.55 V218.45 H338.9 Z" fill="#fff" stroke="#2a2a2a" stroke-width="0.8"/>
<circle cx="346.5" cy="217.5" r="2.0" fill="#fff" stroke="#2a2a2a" stroke-width="1.0"/>
<rect x="303.25" y="68.6" width="62" height="6.3" rx="2.4" fill="#fff" stroke="#111" stroke-width="1.1"/>
<line x1="303.55" y1="71.9" x2="364.95" y2="71.9" stroke="#222" stroke-width="0.9" />
<line x1="309.65" y1="68.6" x2="309.65" y2="74.9" stroke="#333" stroke-width="0.75" />
<line x1="359.85" y1="68.6" x2="359.85" y2="74.9" stroke="#333" stroke-width="0.75" />
<rect x="303.25" y="95.13" width="62" height="6.3" rx="2.4" fill="#fff" stroke="#111" stroke-width="1.1"/>
<line x1="303.55" y1="98.43" x2="364.95" y2="98.43" stroke="#222" stroke-width="0.9" />
<line x1="309.65" y1="95.13" x2="309.65" y2="101.43" stroke="#333" stroke-width="0.75" />
<line x1="359.85" y1="95.13" x2="359.85" y2="101.43" stroke="#333" stroke-width="0.75" />
<rect x="303.25" y="121.66" width="62" height="6.3" rx="2.4" fill="#fff" stroke="#111" stroke-width="1.1"/>
<line x1="303.55" y1="124.96" x2="364.95" y2="124.96" stroke="#222" stroke-width="0.9" />
<line x1="309.65" y1="121.66" x2="309.65" y2="127.96" stroke="#333" stroke-width="0.75" />
<line x1="359.85" y1="121.66" x2="359.85" y2="127.96" stroke="#333" stroke-width="0.75" />
<rect x="303.25" y="148.19" width="62" height="6.3" rx="2.4" fill="#fff" stroke="#111" stroke-width="1.1"/>
<line x1="303.55" y1="151.49" x2="364.95" y2="151.49" stroke="#222" stroke-width="0.9" />
<line x1="309.65" y1="148.19" x2="309.65" y2="154.49" stroke="#333" stroke-width="0.75" />
<line x1="359.85" y1="148.19" x2="359.85" y2="154.49" stroke="#333" stroke-width="0.75" />
<rect x="303.25" y="174.72" width="62" height="6.3" rx="2.4" fill="#fff" stroke="#111" stroke-width="1.1"/>
<line x1="303.55" y1="178.02" x2="364.95" y2="178.02" stroke="#222" stroke-width="0.9" />
<line x1="309.65" y1="174.72" x2="309.65" y2="181.02" stroke="#333" stroke-width="0.75" />
<line x1="359.85" y1="174.72" x2="359.85" y2="181.02" stroke="#333" stroke-width="0.75" />
<rect x="303.25" y="201.25" width="62" height="6.3" rx="2.4" fill="#fff" stroke="#111" stroke-width="1.1"/>
<line x1="303.55" y1="204.55" x2="364.95" y2="204.55" stroke="#222" stroke-width="0.9" />
<line x1="309.65" y1="201.25" x2="309.65" y2="207.55" stroke="#333" stroke-width="0.75" />
<line x1="359.85" y1="201.25" x2="359.85" y2="207.55" stroke="#333" stroke-width="0.75" />
<rect x="303.25" y="227.78" width="62" height="6.3" rx="2.4" fill="#fff" stroke="#111" stroke-width="1.1"/>
<line x1="303.55" y1="231.08" x2="364.95" y2="231.08" stroke="#222" stroke-width="0.9" />
<line x1="309.65" y1="227.78" x2="309.65" y2="234.08" stroke="#333" stroke-width="0.75" />
<line x1="359.85" y1="227.78" x2="359.85" y2="234.08" stroke="#333" stroke-width="0.75" />
<path d="M313.35,68.6 V51.5 Q313.35,48.5 316.35,48.5 H352.55 Q355.55,48.5 355.55,51.5 V68.6" fill="#fff" stroke="#222" stroke-width="0.9"/>
<line x1="318.05" y1="58.8" x2="327.25" y2="58.8" stroke="#999" stroke-width="0.6" />
<line x1="322.65" y1="54.2" x2="322.65" y2="63.4" stroke="#888" stroke-width="0.6" />
<circle cx="322.65" cy="58.8" r="4.9" fill="none" stroke="#333" stroke-width="0.85"/>
<line x1="341.6" y1="58.8" x2="350.8" y2="58.8" stroke="#999" stroke-width="0.6" />
<line x1="346.2" y1="54.2" x2="346.2" y2="63.4" stroke="#888" stroke-width="0.6" />
<circle cx="346.2" cy="58.8" r="4.9" fill="none" stroke="#333" stroke-width="0.85"/>
<rect x="329.6" y="52.9" width="9.6" height="11.8" rx="4.5" ry="5.2" fill="none" stroke="#333" stroke-width="0.85"/>
<path d="M313.35,234.08 V251.38 Q313.35,254.38 316.35,254.38 H352.55 Q355.55,254.38 355.55,251.38 V234.08" fill="#fff" stroke="#222" stroke-width="0.9"/>
<line x1="318.05" y1="243.88" x2="327.25" y2="243.88" stroke="#999" stroke-width="0.6" />
<line x1="322.65" y1="239.28" x2="322.65" y2="248.48" stroke="#888" stroke-width="0.6" />
<circle cx="322.65" cy="243.88" r="4.9" fill="none" stroke="#333" stroke-width="0.85"/>
<line x1="341.6" y1="243.88" x2="350.8" y2="243.88" stroke="#999" stroke-width="0.6" />
<line x1="346.2" y1="239.28" x2="346.2" y2="248.48" stroke="#888" stroke-width="0.6" />
<circle cx="346.2" cy="243.88" r="4.9" fill="none" stroke="#333" stroke-width="0.85"/>
<rect x="329.6" y="237.98" width="9.6" height="11.8" rx="4.5" ry="5.2" fill="none" stroke="#333" stroke-width="0.85"/>
<text x="335.25" y="266.1" font-size="8.6" text-anchor="middle" fill="#333" font-weight="normal" textLength="32.6" lengthAdjust="spacingAndGlyphs" >PN 2506</text>
<line x1="318.95" y1="267.3" x2="351.55" y2="267.3" stroke="#555" stroke-width="0.6" />
<line x1="379.3" y1="74.9" x2="379.3" y2="95.13" stroke="#8a8a8a" stroke-width="1.0" />
<line x1="384.4" y1="74.9" x2="384.4" y2="95.13" stroke="#8a8a8a" stroke-width="0.9" />
<line x1="440.7" y1="74.9" x2="440.7" y2="95.13" stroke="#8a8a8a" stroke-width="1.0" />
<line x1="435.6" y1="74.9" x2="435.6" y2="95.13" stroke="#8a8a8a" stroke-width="0.9" />
<rect x="388" y="74.9" width="3.2" height="20.23" fill="#9a9a9a"/>
<rect x="431.2" y="74.9" width="1.7" height="20.23" fill="#a0a0a0"/>
<rect x="391.4" y="74.9" width="15.1" height="20.23" fill="url(#hatch)" stroke="#111" stroke-width="0.8"/>
<circle cx="398.5" cy="85.5" r="6.85" fill="#fbfbfb" stroke="#333" stroke-width="0.6"/>
<path d="M390.9,84.55 H397.55 V81.4 H399.45 V84.55 H406.1 V86.45 H399.45 V89.6 H397.55 V86.45 H390.9 Z" fill="#fff" stroke="#2a2a2a" stroke-width="0.8"/>
<circle cx="398.5" cy="85.5" r="2.0" fill="#fff" stroke="#2a2a2a" stroke-width="1.0"/>
<rect x="413.5" y="74.9" width="16.7" height="20.23" fill="url(#hatch)" stroke="#111" stroke-width="0.8"/>
<circle cx="421.5" cy="85.5" r="6.85" fill="#fbfbfb" stroke="#333" stroke-width="0.6"/>
<path d="M413.9,84.55 H420.55 V81.4 H422.45 V84.55 H429.1 V86.45 H422.45 V89.6 H420.55 V86.45 H413.9 Z" fill="#fff" stroke="#2a2a2a" stroke-width="0.8"/>
<circle cx="421.5" cy="85.5" r="2.0" fill="#fff" stroke="#2a2a2a" stroke-width="1.0"/>
<line x1="379.3" y1="101.43" x2="379.3" y2="121.66" stroke="#8a8a8a" stroke-width="1.0" />
<line x1="384.4" y1="101.43" x2="384.4" y2="121.66" stroke="#8a8a8a" stroke-width="0.9" />
<line x1="440.7" y1="101.43" x2="440.7" y2="121.66" stroke="#8a8a8a" stroke-width="1.0" />
<line x1="435.6" y1="101.43" x2="435.6" y2="121.66" stroke="#8a8a8a" stroke-width="0.9" />
<rect x="388" y="101.43" width="3.2" height="20.23" fill="#9a9a9a"/>
<rect x="431.2" y="101.43" width="1.7" height="20.23" fill="#a0a0a0"/>
<rect x="391.4" y="101.43" width="15.1" height="20.23" fill="url(#hatch)" stroke="#111" stroke-width="0.8"/>
<circle cx="398.5" cy="111.5" r="6.85" fill="#fbfbfb" stroke="#333" stroke-width="0.6"/>
<path d="M390.9,110.55 H397.55 V107.4 H399.45 V110.55 H406.1 V112.45 H399.45 V115.6 H397.55 V112.45 H390.9 Z" fill="#fff" stroke="#2a2a2a" stroke-width="0.8"/>
<circle cx="398.5" cy="111.5" r="2.0" fill="#fff" stroke="#2a2a2a" stroke-width="1.0"/>
<rect x="413.5" y="101.43" width="16.7" height="20.23" fill="url(#hatch)" stroke="#111" stroke-width="0.8"/>
<circle cx="421.5" cy="111.5" r="6.85" fill="#fbfbfb" stroke="#333" stroke-width="0.6"/>
<path d="M413.9,110.55 H420.55 V107.4 H422.45 V110.55 H429.1 V112.45 H422.45 V115.6 H420.55 V112.45 H413.9 Z" fill="#fff" stroke="#2a2a2a" stroke-width="0.8"/>
<circle cx="421.5" cy="111.5" r="2.0" fill="#fff" stroke="#2a2a2a" stroke-width="1.0"/>
<line x1="379.3" y1="127.96" x2="379.3" y2="148.19" stroke="#8a8a8a" stroke-width="1.0" />
<line x1="384.4" y1="127.96" x2="384.4" y2="148.19" stroke="#8a8a8a" stroke-width="0.9" />
<line x1="440.7" y1="127.96" x2="440.7" y2="148.19" stroke="#8a8a8a" stroke-width="1.0" />
<line x1="435.6" y1="127.96" x2="435.6" y2="148.19" stroke="#8a8a8a" stroke-width="0.9" />
<rect x="388" y="127.96" width="3.2" height="20.23" fill="#9a9a9a"/>
<rect x="431.2" y="127.96" width="1.7" height="20.23" fill="#a0a0a0"/>
<rect x="391.4" y="127.96" width="15.1" height="20.23" fill="url(#hatch)" stroke="#111" stroke-width="0.8"/>
<circle cx="398.5" cy="138.5" r="6.85" fill="#fbfbfb" stroke="#333" stroke-width="0.6"/>
<path d="M390.9,137.55 H397.55 V134.4 H399.45 V137.55 H406.1 V139.45 H399.45 V142.6 H397.55 V139.45 H390.9 Z" fill="#fff" stroke="#2a2a2a" stroke-width="0.8"/>
<circle cx="398.5" cy="138.5" r="2.0" fill="#fff" stroke="#2a2a2a" stroke-width="1.0"/>
<rect x="413.5" y="127.96" width="16.7" height="20.23" fill="url(#hatch)" stroke="#111" stroke-width="0.8"/>
<circle cx="421.5" cy="138.5" r="6.85" fill="#fbfbfb" stroke="#333" stroke-width="0.6"/>
<path d="M413.9,137.55 H420.55 V134.4 H422.45 V137.55 H429.1 V139.45 H422.45 V142.6 H420.55 V139.45 H413.9 Z" fill="#fff" stroke="#2a2a2a" stroke-width="0.8"/>
<circle cx="421.5" cy="138.5" r="2.0" fill="#fff" stroke="#2a2a2a" stroke-width="1.0"/>
<line x1="379.3" y1="154.49" x2="379.3" y2="174.72" stroke="#8a8a8a" stroke-width="1.0" />
<line x1="384.4" y1="154.49" x2="384.4" y2="174.72" stroke="#8a8a8a" stroke-width="0.9" />
<line x1="440.7" y1="154.49" x2="440.7" y2="174.72" stroke="#8a8a8a" stroke-width="1.0" />
<line x1="435.6" y1="154.49" x2="435.6" y2="174.72" stroke="#8a8a8a" stroke-width="0.9" />
<rect x="388" y="154.49" width="3.2" height="20.23" fill="#9a9a9a"/>
<rect x="431.2" y="154.49" width="1.7" height="20.23" fill="#a0a0a0"/>
<rect x="391.4" y="154.49" width="15.1" height="20.23" fill="url(#hatch)" stroke="#111" stroke-width="0.8"/>
<circle cx="398.5" cy="164.5" r="6.85" fill="#fbfbfb" stroke="#333" stroke-width="0.6"/>
<path d="M390.9,163.55 H397.55 V160.4 H399.45 V163.55 H406.1 V165.45 H399.45 V168.6 H397.55 V165.45 H390.9 Z" fill="#fff" stroke="#2a2a2a" stroke-width="0.8"/>
<circle cx="398.5" cy="164.5" r="2.0" fill="#fff" stroke="#2a2a2a" stroke-width="1.0"/>
<rect x="413.5" y="154.49" width="16.7" height="20.23" fill="url(#hatch)" stroke="#111" stroke-width="0.8"/>
<circle cx="421.5" cy="164.5" r="6.85" fill="#fbfbfb" stroke="#333" stroke-width="0.6"/>
<path d="M413.9,163.55 H420.55 V160.4 H422.45 V163.55 H429.1 V165.45 H422.45 V168.6 H420.55 V165.45 H413.9 Z" fill="#fff" stroke="#2a2a2a" stroke-width="0.8"/>
<circle cx="421.5" cy="164.5" r="2.0" fill="#fff" stroke="#2a2a2a" stroke-width="1.0"/>
<rect x="379" y="68.6" width="62" height="6.3" rx="2.4" fill="#fff" stroke="#111" stroke-width="1.1"/>
<line x1="379.3" y1="71.9" x2="440.7" y2="71.9" stroke="#222" stroke-width="0.9" />
<line x1="385.4" y1="68.6" x2="385.4" y2="74.9" stroke="#333" stroke-width="0.75" />
<line x1="435.6" y1="68.6" x2="435.6" y2="74.9" stroke="#333" stroke-width="0.75" />
<rect x="379" y="95.13" width="62" height="6.3" rx="2.4" fill="#fff" stroke="#111" stroke-width="1.1"/>
<line x1="379.3" y1="98.43" x2="440.7" y2="98.43" stroke="#222" stroke-width="0.9" />
<line x1="385.4" y1="95.13" x2="385.4" y2="101.43" stroke="#333" stroke-width="0.75" />
<line x1="435.6" y1="95.13" x2="435.6" y2="101.43" stroke="#333" stroke-width="0.75" />
<rect x="379" y="121.66" width="62" height="6.3" rx="2.4" fill="#fff" stroke="#111" stroke-width="1.1"/>
<line x1="379.3" y1="124.96" x2="440.7" y2="124.96" stroke="#222" stroke-width="0.9" />
<line x1="385.4" y1="121.66" x2="385.4" y2="127.96" stroke="#333" stroke-width="0.75" />
<line x1="435.6" y1="121.66" x2="435.6" y2="127.96" stroke="#333" stroke-width="0.75" />
<rect x="379" y="148.19" width="62" height="6.3" rx="2.4" fill="#fff" stroke="#111" stroke-width="1.1"/>
<line x1="379.3" y1="151.49" x2="440.7" y2="151.49" stroke="#222" stroke-width="0.9" />
<line x1="385.4" y1="148.19" x2="385.4" y2="154.49" stroke="#333" stroke-width="0.75" />
<line x1="435.6" y1="148.19" x2="435.6" y2="154.49" stroke="#333" stroke-width="0.75" />
<rect x="379" y="174.72" width="62" height="6.3" rx="2.4" fill="#fff" stroke="#111" stroke-width="1.1"/>
<line x1="379.3" y1="178.02" x2="440.7" y2="178.02" stroke="#222" stroke-width="0.9" />
<line x1="385.4" y1="174.72" x2="385.4" y2="181.02" stroke="#333" stroke-width="0.75" />
<line x1="435.6" y1="174.72" x2="435.6" y2="181.02" stroke="#333" stroke-width="0.75" />
<path d="M389.1,68.6 V51.5 Q389.1,48.5 392.1,48.5 H428.3 Q431.3,48.5 431.3,51.5 V68.6" fill="#fff" stroke="#222" stroke-width="0.9"/>
<line x1="393.8" y1="58.8" x2="403" y2="58.8" stroke="#999" stroke-width="0.6" />
<line x1="398.4" y1="54.2" x2="398.4" y2="63.4" stroke="#888" stroke-width="0.6" />
<circle cx="398.4" cy="58.8" r="4.9" fill="none" stroke="#333" stroke-width="0.85"/>
<line x1="417.35" y1="58.8" x2="426.55" y2="58.8" stroke="#999" stroke-width="0.6" />
<line x1="421.95" y1="54.2" x2="421.95" y2="63.4" stroke="#888" stroke-width="0.6" />
<circle cx="421.95" cy="58.8" r="4.9" fill="none" stroke="#333" stroke-width="0.85"/>
<rect x="405.35" y="52.9" width="9.6" height="11.8" rx="4.5" ry="5.2" fill="none" stroke="#333" stroke-width="0.85"/>
<path d="M389.1,181.02 V198.32 Q389.1,201.32 392.1,201.32 H428.3 Q431.3,201.32 431.3,198.32 V181.02" fill="#fff" stroke="#222" stroke-width="0.9"/>
<line x1="393.8" y1="190.82" x2="403" y2="190.82" stroke="#999" stroke-width="0.6" />
<line x1="398.4" y1="186.22" x2="398.4" y2="195.42" stroke="#888" stroke-width="0.6" />
<circle cx="398.4" cy="190.82" r="4.9" fill="none" stroke="#333" stroke-width="0.85"/>
<line x1="417.35" y1="190.82" x2="426.55" y2="190.82" stroke="#999" stroke-width="0.6" />
<line x1="421.95" y1="186.22" x2="421.95" y2="195.42" stroke="#888" stroke-width="0.6" />
<circle cx="421.95" cy="190.82" r="4.9" fill="none" stroke="#333" stroke-width="0.85"/>
<rect x="405.35" y="184.92" width="9.6" height="11.8" rx="4.5" ry="5.2" fill="none" stroke="#333" stroke-width="0.85"/>
<text x="410.3" y="214.1" font-size="8.6" text-anchor="middle" fill="#333" font-weight="normal" textLength="32.6" lengthAdjust="spacingAndGlyphs" >PN 2504</text>
<line x1="394" y1="215.3" x2="426.6" y2="215.3" stroke="#555" stroke-width="0.6" />
<line x1="455.05" y1="74.9" x2="455.05" y2="95.13" stroke="#8a8a8a" stroke-width="1.0" />
<line x1="460.15" y1="74.9" x2="460.15" y2="95.13" stroke="#8a8a8a" stroke-width="0.9" />
<line x1="516.45" y1="74.9" x2="516.45" y2="95.13" stroke="#8a8a8a" stroke-width="1.0" />
<line x1="511.35" y1="74.9" x2="511.35" y2="95.13" stroke="#8a8a8a" stroke-width="0.9" />
<rect x="463.75" y="74.9" width="3.2" height="20.23" fill="#9a9a9a"/>
<rect x="506.95" y="74.9" width="1.7" height="20.23" fill="#a0a0a0"/>
<rect x="467.15" y="74.9" width="15.1" height="20.23" fill="url(#hatch)" stroke="#111" stroke-width="0.8"/>
<circle cx="474.5" cy="85.5" r="6.85" fill="#fbfbfb" stroke="#333" stroke-width="0.6"/>
<path d="M466.9,84.55 H473.55 V81.4 H475.45 V84.55 H482.1 V86.45 H475.45 V89.6 H473.55 V86.45 H466.9 Z" fill="#fff" stroke="#2a2a2a" stroke-width="0.8"/>
<circle cx="474.5" cy="85.5" r="2.0" fill="#fff" stroke="#2a2a2a" stroke-width="1.0"/>
<rect x="489.25" y="74.9" width="16.7" height="20.23" fill="url(#hatch)" stroke="#111" stroke-width="0.8"/>
<circle cx="497.5" cy="85.5" r="6.85" fill="#fbfbfb" stroke="#333" stroke-width="0.6"/>
<path d="M489.9,84.55 H496.55 V81.4 H498.45 V84.55 H505.1 V86.45 H498.45 V89.6 H496.55 V86.45 H489.9 Z" fill="#fff" stroke="#2a2a2a" stroke-width="0.8"/>
<circle cx="497.5" cy="85.5" r="2.0" fill="#fff" stroke="#2a2a2a" stroke-width="1.0"/>
<line x1="455.05" y1="101.43" x2="455.05" y2="121.66" stroke="#8a8a8a" stroke-width="1.0" />
<line x1="460.15" y1="101.43" x2="460.15" y2="121.66" stroke="#8a8a8a" stroke-width="0.9" />
<line x1="516.45" y1="101.43" x2="516.45" y2="121.66" stroke="#8a8a8a" stroke-width="1.0" />
<line x1="511.35" y1="101.43" x2="511.35" y2="121.66" stroke="#8a8a8a" stroke-width="0.9" />
<rect x="463.75" y="101.43" width="3.2" height="20.23" fill="#9a9a9a"/>
<rect x="506.95" y="101.43" width="1.7" height="20.23" fill="#a0a0a0"/>
<rect x="467.15" y="101.43" width="15.1" height="20.23" fill="url(#hatch)" stroke="#111" stroke-width="0.8"/>
<circle cx="474.5" cy="111.5" r="6.85" fill="#fbfbfb" stroke="#333" stroke-width="0.6"/>
<path d="M466.9,110.55 H473.55 V107.4 H475.45 V110.55 H482.1 V112.45 H475.45 V115.6 H473.55 V112.45 H466.9 Z" fill="#fff" stroke="#2a2a2a" stroke-width="0.8"/>
<circle cx="474.5" cy="111.5" r="2.0" fill="#fff" stroke="#2a2a2a" stroke-width="1.0"/>
<rect x="489.25" y="101.43" width="16.7" height="20.23" fill="url(#hatch)" stroke="#111" stroke-width="0.8"/>
<circle cx="497.5" cy="111.5" r="6.85" fill="#fbfbfb" stroke="#333" stroke-width="0.6"/>
<path d="M489.9,110.55 H496.55 V107.4 H498.45 V110.55 H505.1 V112.45 H498.45 V115.6 H496.55 V112.45 H489.9 Z" fill="#fff" stroke="#2a2a2a" stroke-width="0.8"/>
<circle cx="497.5" cy="111.5" r="2.0" fill="#fff" stroke="#2a2a2a" stroke-width="1.0"/>
<rect x="454.75" y="68.6" width="62" height="6.3" rx="2.4" fill="#fff" stroke="#111" stroke-width="1.1"/>
<line x1="455.05" y1="71.9" x2="516.45" y2="71.9" stroke="#222" stroke-width="0.9" />
<line x1="461.15" y1="68.6" x2="461.15" y2="74.9" stroke="#333" stroke-width="0.75" />
<line x1="511.35" y1="68.6" x2="511.35" y2="74.9" stroke="#333" stroke-width="0.75" />
<rect x="454.75" y="95.13" width="62" height="6.3" rx="2.4" fill="#fff" stroke="#111" stroke-width="1.1"/>
<line x1="455.05" y1="98.43" x2="516.45" y2="98.43" stroke="#222" stroke-width="0.9" />
<line x1="461.15" y1="95.13" x2="461.15" y2="101.43" stroke="#333" stroke-width="0.75" />
<line x1="511.35" y1="95.13" x2="511.35" y2="101.43" stroke="#333" stroke-width="0.75" />
<rect x="454.75" y="121.66" width="62" height="6.3" rx="2.4" fill="#fff" stroke="#111" stroke-width="1.1"/>
<line x1="455.05" y1="124.96" x2="516.45" y2="124.96" stroke="#222" stroke-width="0.9" />
<line x1="461.15" y1="121.66" x2="461.15" y2="127.96" stroke="#333" stroke-width="0.75" />
<line x1="511.35" y1="121.66" x2="511.35" y2="127.96" stroke="#333" stroke-width="0.75" />
<path d="M464.85,68.6 V51.5 Q464.85,48.5 467.85,48.5 H504.05 Q507.05,48.5 507.05,51.5 V68.6" fill="#fff" stroke="#222" stroke-width="0.9"/>
<line x1="469.55" y1="58.8" x2="478.75" y2="58.8" stroke="#999" stroke-width="0.6" />
<line x1="474.15" y1="54.2" x2="474.15" y2="63.4" stroke="#888" stroke-width="0.6" />
<circle cx="474.15" cy="58.8" r="4.9" fill="none" stroke="#333" stroke-width="0.85"/>
<line x1="493.1" y1="58.8" x2="502.3" y2="58.8" stroke="#999" stroke-width="0.6" />
<line x1="497.7" y1="54.2" x2="497.7" y2="63.4" stroke="#888" stroke-width="0.6" />
<circle cx="497.7" cy="58.8" r="4.9" fill="none" stroke="#333" stroke-width="0.85"/>
<rect x="481.1" y="52.9" width="9.6" height="11.8" rx="4.5" ry="5.2" fill="none" stroke="#333" stroke-width="0.85"/>
<path d="M464.85,127.96 V145.26 Q464.85,148.26 467.85,148.26 H504.05 Q507.05,148.26 507.05,145.26 V127.96" fill="#fff" stroke="#222" stroke-width="0.9"/>
<line x1="469.55" y1="137.76" x2="478.75" y2="137.76" stroke="#999" stroke-width="0.6" />
<line x1="474.15" y1="133.16" x2="474.15" y2="142.36" stroke="#888" stroke-width="0.6" />
<circle cx="474.15" cy="137.76" r="4.9" fill="none" stroke="#333" stroke-width="0.85"/>
<line x1="493.1" y1="137.76" x2="502.3" y2="137.76" stroke="#999" stroke-width="0.6" />
<line x1="497.7" y1="133.16" x2="497.7" y2="142.36" stroke="#888" stroke-width="0.6" />
<circle cx="497.7" cy="137.76" r="4.9" fill="none" stroke="#333" stroke-width="0.85"/>
<rect x="481.1" y="131.86" width="9.6" height="11.8" rx="4.5" ry="5.2" fill="none" stroke="#333" stroke-width="0.85"/>
<text x="486.6" y="162.85" font-size="8.6" text-anchor="middle" fill="#333" font-weight="normal" textLength="32.6" lengthAdjust="spacingAndGlyphs" >PN 2502</text>
<line x1="470.3" y1="164.05" x2="502.9" y2="164.05" stroke="#555" stroke-width="0.6" />
<line x1="507.4" y1="48.5" x2="751" y2="48.5" stroke="#777" stroke-width="0.7" />
<line x1="503" y1="58.75" x2="737" y2="58.75" stroke="#aaa" stroke-width="0.9" />
<line x1="490.75" y1="137.76" x2="542" y2="137.76" stroke="#888" stroke-width="0.7" />
<line x1="506.65" y1="148.26" x2="553" y2="148.26" stroke="#777" stroke-width="0.7" />
<line x1="536" y1="58.75" x2="536" y2="82.8" stroke="#999" stroke-width="0.7" />
<line x1="536" y1="99" x2="536" y2="137.76" stroke="#999" stroke-width="0.7" />
<polygon points="536,58.75 534.7,65.95 537.3,65.95" fill="#111"/>
<polygon points="536,137.76 534.7,130.56 537.3,130.56" fill="#111"/>
<line x1="547" y1="48.5" x2="547" y2="101" stroke="#999" stroke-width="0.7" />
<line x1="547" y1="117" x2="547" y2="148.26" stroke="#999" stroke-width="0.7" />
<polygon points="547,48.5 545.7,55.7 548.3,55.7" fill="#111"/>
<polygon points="547,148.26 545.7,141.06 548.3,141.06" fill="#111"/>
<text x="536" y="90.1" font-size="7" text-anchor="middle" fill="#333" font-weight="normal" >[42.8]</text>
<text x="536" y="97.6" font-size="7" text-anchor="middle" fill="#333" font-weight="normal" >1.69</text>
<text x="547" y="108.9" font-size="7" text-anchor="middle" fill="#333" font-weight="normal" >[54]</text>
<text x="547" y="116.5" font-size="7" text-anchor="middle" fill="#333" font-weight="normal" >2.13</text>
<line x1="415" y1="190.82" x2="579.1" y2="190.82" stroke="#888" stroke-width="0.7" />
<line x1="430.9" y1="201.32" x2="592.8" y2="201.32" stroke="#777" stroke-width="0.7" />
<line x1="573.1" y1="58.75" x2="573.1" y2="82.8" stroke="#999" stroke-width="0.7" />
<line x1="573.1" y1="99" x2="573.1" y2="190.82" stroke="#999" stroke-width="0.7" />
<polygon points="573.1,58.75 571.8,65.95 574.4,65.95" fill="#111"/>
<polygon points="573.1,190.82 571.8,183.62 574.4,183.62" fill="#111"/>
<line x1="586.8" y1="48.5" x2="586.8" y2="101" stroke="#999" stroke-width="0.7" />
<line x1="586.8" y1="117" x2="586.8" y2="201.32" stroke="#999" stroke-width="0.7" />
<polygon points="586.8,48.5 585.5,55.7 588.1,55.7" fill="#111"/>
<polygon points="586.8,201.32 585.5,194.12 588.1,194.12" fill="#111"/>
<text x="573.1" y="90.1" font-size="7" text-anchor="middle" fill="#333" font-weight="normal" >[71.4]</text>
<text x="573.1" y="97.6" font-size="7" text-anchor="middle" fill="#333" font-weight="normal" >2.81</text>
<text x="586.8" y="108.9" font-size="7" text-anchor="middle" fill="#333" font-weight="normal" >[82.6]</text>
<text x="586.8" y="116.5" font-size="7" text-anchor="middle" fill="#333" font-weight="normal" >3.25</text>
<line x1="339.25" y1="243.88" x2="616.3" y2="243.88" stroke="#888" stroke-width="0.7" />
<line x1="355.15" y1="254.38" x2="631" y2="254.38" stroke="#777" stroke-width="0.7" />
<line x1="610.3" y1="58.75" x2="610.3" y2="82.8" stroke="#999" stroke-width="0.7" />
<line x1="610.3" y1="99" x2="610.3" y2="243.88" stroke="#999" stroke-width="0.7" />
<polygon points="610.3,58.75 609,65.95 611.6,65.95" fill="#111"/>
<polygon points="610.3,243.88 609,236.68 611.6,236.68" fill="#111"/>
<line x1="625" y1="48.5" x2="625" y2="101" stroke="#999" stroke-width="0.7" />
<line x1="625" y1="117" x2="625" y2="254.38" stroke="#999" stroke-width="0.7" />
<polygon points="625,48.5 623.7,55.7 626.3,55.7" fill="#111"/>
<polygon points="625,254.38 623.7,247.18 626.3,247.18" fill="#111"/>
<text x="610.3" y="90.1" font-size="7" text-anchor="middle" fill="#333" font-weight="normal" >[100]</text>
<text x="610.3" y="97.6" font-size="7" text-anchor="middle" fill="#333" font-weight="normal" >3.94</text>
<text x="625" y="108.9" font-size="7" text-anchor="middle" fill="#333" font-weight="normal" >[111.2]</text>
<text x="625" y="116.5" font-size="7" text-anchor="middle" fill="#333" font-weight="normal" >4.38</text>
<line x1="263.5" y1="296.94" x2="656.6" y2="296.94" stroke="#888" stroke-width="0.7" />
<line x1="279.4" y1="307.44" x2="671.6" y2="307.44" stroke="#777" stroke-width="0.7" />
<line x1="650.6" y1="58.75" x2="650.6" y2="82.8" stroke="#999" stroke-width="0.7" />
<line x1="650.6" y1="99" x2="650.6" y2="296.94" stroke="#999" stroke-width="0.7" />
<polygon points="650.6,58.75 649.3,65.95 651.9,65.95" fill="#111"/>
<polygon points="650.6,296.94 649.3,289.74 651.9,289.74" fill="#111"/>
<line x1="665.6" y1="48.5" x2="665.6" y2="101" stroke="#999" stroke-width="0.7" />
<line x1="665.6" y1="117" x2="665.6" y2="307.44" stroke="#999" stroke-width="0.7" />
<polygon points="665.6,48.5 664.3,55.7 666.9,55.7" fill="#111"/>
<polygon points="665.6,307.44 664.3,300.24 666.9,300.24" fill="#111"/>
<text x="650.6" y="90.1" font-size="7" text-anchor="middle" fill="#333" font-weight="normal" >[128.5]</text>
<text x="650.6" y="97.6" font-size="7" text-anchor="middle" fill="#333" font-weight="normal" >5.06</text>
<text x="665.6" y="108.9" font-size="7" text-anchor="middle" fill="#333" font-weight="normal" >[139.7]</text>
<text x="665.6" y="116.5" font-size="7" text-anchor="middle" fill="#333" font-weight="normal" >5.50</text>
<line x1="187.75" y1="350" x2="697.6" y2="350" stroke="#888" stroke-width="0.7" />
<line x1="203.65" y1="360.5" x2="711.4" y2="360.5" stroke="#777" stroke-width="0.7" />
<line x1="691.6" y1="58.75" x2="691.6" y2="82.8" stroke="#999" stroke-width="0.7" />
<line x1="691.6" y1="99" x2="691.6" y2="350" stroke="#999" stroke-width="0.7" />
<polygon points="691.6,58.75 690.3,65.95 692.9,65.95" fill="#111"/>
<polygon points="691.6,350 690.3,342.8 692.9,342.8" fill="#111"/>
<line x1="705.4" y1="48.5" x2="705.4" y2="101" stroke="#999" stroke-width="0.7" />
<line x1="705.4" y1="117" x2="705.4" y2="360.5" stroke="#999" stroke-width="0.7" />
<polygon points="705.4,48.5 704.1,55.7 706.7,55.7" fill="#111"/>
<polygon points="705.4,360.5 704.1,353.3 706.7,353.3" fill="#111"/>
<text x="691.6" y="90.1" font-size="7" text-anchor="middle" fill="#333" font-weight="normal" >[157.1]</text>
<text x="691.6" y="97.6" font-size="7" text-anchor="middle" fill="#333" font-weight="normal" >6.18</text>
<text x="705.4" y="108.9" font-size="7" text-anchor="middle" fill="#333" font-weight="normal" >[168.3]</text>
<text x="705.4" y="116.5" font-size="7" text-anchor="middle" fill="#333" font-weight="normal" >6.63</text>
<line x1="112" y1="403.06" x2="737" y2="403.06" stroke="#888" stroke-width="0.7" />
<line x1="127.9" y1="413.56" x2="751" y2="413.56" stroke="#777" stroke-width="0.7" />
<line x1="731" y1="58.75" x2="731" y2="82.8" stroke="#999" stroke-width="0.7" />
<line x1="731" y1="99" x2="731" y2="403.06" stroke="#999" stroke-width="0.7" />
<polygon points="731,58.75 729.7,65.95 732.3,65.95" fill="#111"/>
<polygon points="731,403.06 729.7,395.86 732.3,395.86" fill="#111"/>
<line x1="745" y1="48.5" x2="745" y2="101" stroke="#999" stroke-width="0.7" />
<line x1="745" y1="117" x2="745" y2="413.56" stroke="#999" stroke-width="0.7" />
<polygon points="745,48.5 743.7,55.7 746.3,55.7" fill="#111"/>
<polygon points="745,413.56 743.7,406.36 746.3,406.36" fill="#111"/>
<text x="731" y="90.1" font-size="7" text-anchor="middle" fill="#333" font-weight="normal" >[185.6]</text>
<text x="731" y="97.6" font-size="7" text-anchor="middle" fill="#333" font-weight="normal" >7.31</text>
<text x="745" y="108.9" font-size="7" text-anchor="middle" fill="#333" font-weight="normal" >[196.8]</text>
<text x="745" y="116.5" font-size="7" text-anchor="middle" fill="#333" font-weight="normal" >7.75</text>
<line x1="474.4" y1="25" x2="474.4" y2="58.75" stroke="#888" stroke-width="0.7" />
<line x1="497.75" y1="25" x2="497.75" y2="58.75" stroke="#888" stroke-width="0.7" />
<line x1="451" y1="31.25" x2="467" y2="31.25" stroke="#aaa" stroke-width="0.7" />
<polygon points="474.4,31.25 467.2,29.95 467.2,32.55" fill="#111"/>
<line x1="505" y1="31.25" x2="511.9" y2="31.25" stroke="#aaa" stroke-width="0.7" />
<polygon points="497.75,31.25 504.95,29.95 504.95,32.55" fill="#111"/>
<text x="522.5" y="26.4" font-size="7" text-anchor="middle" fill="#333" font-weight="normal" textLength="17" lengthAdjust="spacingAndGlyphs" >[12.7]</text>
<text x="522.5" y="33.6" font-size="7" text-anchor="middle" fill="#333" font-weight="normal" >.50</text>
<text x="522.5" y="42.3" font-size="7" text-anchor="middle" fill="#333" font-weight="normal" >TYP</text>
<line x1="227.5" y1="31" x2="227.5" y2="68.5" stroke="#777" stroke-width="0.7" />
<line x1="289.5" y1="31" x2="289.5" y2="68.5" stroke="#777" stroke-width="0.7" />
<line x1="203.7" y1="36.6" x2="220" y2="36.6" stroke="#aaa" stroke-width="0.7" />
<polygon points="227.5,36.6 220.3,35.3 220.3,37.9" fill="#111"/>
<line x1="297" y1="36.6" x2="313.7" y2="36.6" stroke="#aaa" stroke-width="0.7" />
<polygon points="289.5,36.6 296.7,35.3 296.7,37.9" fill="#111"/>
<text x="252.5" y="35" font-size="7" text-anchor="middle" fill="#333" font-weight="normal" textLength="17.5" lengthAdjust="spacingAndGlyphs" >[33.8]</text>
<text x="252.5" y="43.75" font-size="7" text-anchor="middle" fill="#333" font-weight="normal" textLength="13" lengthAdjust="spacingAndGlyphs" >1.33</text>
<text x="269.1" y="43.75" font-size="7" text-anchor="middle" fill="#333" font-weight="normal" textLength="10.7" lengthAdjust="spacingAndGlyphs" >TYP</text>
<line x1="61" y1="85.4" x2="95.2" y2="85.4" stroke="#666" stroke-width="0.7" />
<line x1="61" y1="112" x2="95.2" y2="112" stroke="#666" stroke-width="0.7" />
<line x1="66.4" y1="62" x2="66.4" y2="80" stroke="#777" stroke-width="0.7" />
<polygon points="66.4,85.4 65.1,78.2 67.7,78.2" fill="#111"/>
<line x1="66.4" y1="117" x2="66.4" y2="131" stroke="#999" stroke-width="0.7" />
<line x1="64.4" y1="131" x2="66.4" y2="131" stroke="#999" stroke-width="0.7" />
<polygon points="66.4,112 65.1,119.2 67.7,119.2" fill="#111"/>
<text x="52" y="125.6" font-size="7" text-anchor="middle" fill="#333" font-weight="normal" textLength="16.5" lengthAdjust="spacingAndGlyphs" >[14.3]</text>
<text x="52.3" y="134.3" font-size="7" text-anchor="middle" fill="#333" font-weight="normal" >.56</text>
<text x="52" y="141.6" font-size="7" text-anchor="middle" fill="#333" font-weight="normal" >TYP</text>
<path d="M273.1,301.9 L290,330.2 H300" fill="none" stroke="#555" stroke-width="0.6"/>
<polygon points="273.1,301.9 275.2,307.6 277.3,306.3" fill="#111"/>
<text x="366.2" y="319.7" font-size="8.2" text-anchor="middle" fill="#333" font-weight="normal" textLength="16.4" lengthAdjust="spacingAndGlyphs" >[5.3]</text>
<text x="367" y="329.4" font-size="8" text-anchor="middle" fill="#333" font-weight="normal" textLength="16.8" lengthAdjust="spacingAndGlyphs" >∅.21</text>
<text x="303" y="339" font-size="8.2" text-anchor="start" fill="#333" font-weight="normal" textLength="126" lengthAdjust="spacingAndGlyphs" >MOUNTING SCREWS #10 [M5] TYP</text>
<path d="M123.4,378.9 L140,388.4 H153.6" fill="none" stroke="#555" stroke-width="0.6"/>
<polygon points="123.4,378.9 126.6,381.77 127.49,380.21" fill="#111"/>
<text x="155" y="392.8" font-size="8.6" text-anchor="start" fill="#333" font-weight="normal" textLength="110.3" lengthAdjust="spacingAndGlyphs" >TERMINATIONS #8 [M4] TYP</text>
<path d="M75.4,477.7 L75.8,450.3 Q75.8,444.3 81.8,444.3 H132.5 Q138.5,444.3 138.5,450.3 L138.9,477.7 Z" fill="none" stroke="#333" stroke-width="0.85"/>
<path d="M78.5,477.7 L78.8,451.3 Q78.8,447.6 83,447.6 H131.3 Q135.5,447.6 135.5,451.3 L135.8,477.7" fill="none" stroke="#555" stroke-width="0.7"/>
<path d="M86,477.7 V462.1 H128.8 V477.7" fill="none" stroke="#333" stroke-width="0.8"/>
<line x1="89.4" y1="462.1" x2="89.4" y2="477.7" stroke="#555" stroke-width="0.7" />
<line x1="125.3" y1="462.1" x2="125.3" y2="477.7" stroke="#555" stroke-width="0.7" />
<path d="M151.15,477.7 L151.55,450.3 Q151.55,444.3 157.55,444.3 H208.25 Q214.25,444.3 214.25,450.3 L214.65,477.7 Z" fill="none" stroke="#333" stroke-width="0.85"/>
<path d="M154.25,477.7 L154.55,451.3 Q154.55,447.6 158.75,447.6 H207.05 Q211.25,447.6 211.25,451.3 L211.55,477.7" fill="none" stroke="#555" stroke-width="0.7"/>
<path d="M161.75,477.7 V462.1 H204.55 V477.7" fill="none" stroke="#333" stroke-width="0.8"/>
<line x1="165.15" y1="462.1" x2="165.15" y2="477.7" stroke="#555" stroke-width="0.7" />
<line x1="201.05" y1="462.1" x2="201.05" y2="477.7" stroke="#555" stroke-width="0.7" />
<path d="M226.9,477.7 L227.3,450.3 Q227.3,444.3 233.3,444.3 H284 Q290,444.3 290,450.3 L290.4,477.7 Z" fill="none" stroke="#333" stroke-width="0.85"/>
<path d="M230,477.7 L230.3,451.3 Q230.3,447.6 234.5,447.6 H282.8 Q287,447.6 287,451.3 L287.3,477.7" fill="none" stroke="#555" stroke-width="0.7"/>
<path d="M237.5,477.7 V462.1 H280.3 V477.7" fill="none" stroke="#333" stroke-width="0.8"/>
<line x1="240.9" y1="462.1" x2="240.9" y2="477.7" stroke="#555" stroke-width="0.7" />
<line x1="276.8" y1="462.1" x2="276.8" y2="477.7" stroke="#555" stroke-width="0.7" />
<path d="M302.65,477.7 L303.05,450.3 Q303.05,444.3 309.05,444.3 H359.75 Q365.75,444.3 365.75,450.3 L366.15,477.7 Z" fill="none" stroke="#333" stroke-width="0.85"/>
<path d="M305.75,477.7 L306.05,451.3 Q306.05,447.6 310.25,447.6 H358.55 Q362.75,447.6 362.75,451.3 L363.05,477.7" fill="none" stroke="#555" stroke-width="0.7"/>
<path d="M313.25,477.7 V462.1 H356.05 V477.7" fill="none" stroke="#333" stroke-width="0.8"/>
<line x1="316.65" y1="462.1" x2="316.65" y2="477.7" stroke="#555" stroke-width="0.7" />
<line x1="352.55" y1="462.1" x2="352.55" y2="477.7" stroke="#555" stroke-width="0.7" />
<path d="M378.4,477.7 L378.8,450.3 Q378.8,444.3 384.8,444.3 H435.5 Q441.5,444.3 441.5,450.3 L441.9,477.7 Z" fill="none" stroke="#333" stroke-width="0.85"/>
<path d="M381.5,477.7 L381.8,451.3 Q381.8,447.6 386,447.6 H434.3 Q438.5,447.6 438.5,451.3 L438.8,477.7" fill="none" stroke="#555" stroke-width="0.7"/>
<path d="M389,477.7 V462.1 H431.8 V477.7" fill="none" stroke="#333" stroke-width="0.8"/>
<line x1="392.4" y1="462.1" x2="392.4" y2="477.7" stroke="#555" stroke-width="0.7" />
<line x1="428.3" y1="462.1" x2="428.3" y2="477.7" stroke="#555" stroke-width="0.7" />
<path d="M454.15,477.7 L454.55,450.3 Q454.55,444.3 460.55,444.3 H511.25 Q517.25,444.3 517.25,450.3 L517.65,477.7 Z" fill="none" stroke="#333" stroke-width="0.85"/>
<path d="M457.25,477.7 L457.55,451.3 Q457.55,447.6 461.75,447.6 H510.05 Q514.25,447.6 514.25,451.3 L514.55,477.7" fill="none" stroke="#555" stroke-width="0.7"/>
<path d="M464.75,477.7 V462.1 H507.55 V477.7" fill="none" stroke="#333" stroke-width="0.8"/>
<line x1="468.15" y1="462.1" x2="468.15" y2="477.7" stroke="#555" stroke-width="0.7" />
<line x1="504.05" y1="462.1" x2="504.05" y2="477.7" stroke="#555" stroke-width="0.7" />
<line x1="515" y1="444.3" x2="541.8" y2="444.3" stroke="#888" stroke-width="0.7" />
<line x1="515" y1="477.7" x2="541.8" y2="477.7" stroke="#888" stroke-width="0.7" />
<line x1="535.9" y1="444.3" x2="535.9" y2="452" stroke="#777" stroke-width="0.7" />
<line x1="535.9" y1="470" x2="535.9" y2="477.7" stroke="#777" stroke-width="0.7" />
<polygon points="535.9,444.3 534.6,451.5 537.2,451.5" fill="#111"/>
<polygon points="535.9,477.7 534.6,470.5 537.2,470.5" fill="#111"/>
<text x="529.9" y="460.3" font-size="7" text-anchor="middle" fill="#333" font-weight="normal" textLength="11.3" lengthAdjust="spacingAndGlyphs" >[18]</text>
<text x="529.5" y="468.2" font-size="7" text-anchor="middle" fill="#333" font-weight="normal" textLength="7.5" lengthAdjust="spacingAndGlyphs" >.71</text>
<text x="538" y="468.2" font-size="7" text-anchor="start" fill="#333" font-weight="normal" textLength="11" lengthAdjust="spacingAndGlyphs" >TYP</text>
<rect x="576.5" y="415.5" width="200" height="70.5" fill="none" stroke="#d0d0d0" stroke-width="0.8"/>
<line x1="576.5" y1="422.5" x2="639.5" y2="422.5" stroke="#d0d0d0" stroke-width="0.7" />
<line x1="576.5" y1="429.5" x2="639.5" y2="429.5" stroke="#d0d0d0" stroke-width="0.7" />
<line x1="576.5" y1="436.5" x2="639.5" y2="436.5" stroke="#d0d0d0" stroke-width="0.7" />
<line x1="576.5" y1="443.5" x2="639.5" y2="443.5" stroke="#d0d0d0" stroke-width="0.7" />
<line x1="576.5" y1="450.5" x2="639.5" y2="450.5" stroke="#d0d0d0" stroke-width="0.7" />
<line x1="576.5" y1="457.5" x2="639.5" y2="457.5" stroke="#d0d0d0" stroke-width="0.7" />
<line x1="596.5" y1="415.5" x2="596.5" y2="457.5" stroke="#d0d0d0" stroke-width="0.7" />
<line x1="618.7" y1="415.5" x2="618.7" y2="457.5" stroke="#d0d0d0" stroke-width="0.7" />
<line x1="639.5" y1="415.5" x2="639.5" y2="486" stroke="#d0d0d0" stroke-width="0.8" />
<line x1="639.5" y1="443" x2="776.5" y2="443" stroke="#d0d0d0" stroke-width="0.7" />
<line x1="639.5" y1="467.5" x2="776.5" y2="467.5" stroke="#d0d0d0" stroke-width="0.7" />
<line x1="639.5" y1="479.5" x2="776.5" y2="479.5" stroke="#d0d0d0" stroke-width="0.7" />
<line x1="651.5" y1="467.5" x2="651.5" y2="479.5" stroke="#d0d0d0" stroke-width="0.7" />
<line x1="765" y1="467.5" x2="765" y2="479.5" stroke="#d0d0d0" stroke-width="0.7" />
<line x1="664" y1="479.5" x2="664" y2="486" stroke="#d0d0d0" stroke-width="0.7" />
<line x1="738.6" y1="479.5" x2="738.6" y2="486" stroke="#d0d0d0" stroke-width="0.7" />
<text x="607.4" y="420.2" font-size="3.6" text-anchor="middle" fill="#444" font-weight="normal" textLength="10.8" lengthAdjust="spacingAndGlyphs" >NAME</text>
<text x="629" y="420.2" font-size="3.6" text-anchor="middle" fill="#444" font-weight="normal" textLength="9.5" lengthAdjust="spacingAndGlyphs" >DATE</text>
<text x="578" y="427.4" font-size="3.6" text-anchor="start" fill="#444" font-weight="normal" textLength="11.5" lengthAdjust="spacingAndGlyphs" >DRAWN</text>
<text x="598" y="427" font-size="3.6" text-anchor="start" fill="#444" font-weight="normal" textLength="13.5" lengthAdjust="spacingAndGlyphs" >T.DYKAS</text>
<text x="638.2" y="427.4" font-size="3.6" text-anchor="end" fill="#444" font-weight="normal" textLength="16" lengthAdjust="spacingAndGlyphs" >2018.05.17</text>
<text x="578" y="434.2" font-size="3.6" text-anchor="start" fill="#444" font-weight="normal" textLength="14.5" lengthAdjust="spacingAndGlyphs" >CHECKED</text>
<text x="598" y="434.3" font-size="3.6" text-anchor="start" fill="#666" font-weight="normal" >-</text>
<text x="638" y="434.3" font-size="3.6" text-anchor="end" fill="#666" font-weight="normal" >-</text>
<text x="578" y="441.3" font-size="3.6" text-anchor="start" fill="#666" font-weight="normal" >-</text>
<text x="598" y="441.3" font-size="3.6" text-anchor="start" fill="#666" font-weight="normal" >-</text>
<text x="638" y="441.3" font-size="3.6" text-anchor="end" fill="#666" font-weight="normal" >-</text>
<text x="578" y="448.3" font-size="3.6" text-anchor="start" fill="#666" font-weight="normal" >-</text>
<text x="598" y="448.3" font-size="3.6" text-anchor="start" fill="#666" font-weight="normal" >-</text>
<text x="638" y="448.3" font-size="3.6" text-anchor="end" fill="#666" font-weight="normal" >-</text>
<text x="578" y="455.3" font-size="3.6" text-anchor="start" fill="#666" font-weight="normal" >-</text>
<text x="598" y="455.3" font-size="3.6" text-anchor="start" fill="#666" font-weight="normal" >-</text>
<text x="638" y="455.3" font-size="3.6" text-anchor="end" fill="#666" font-weight="normal" >-</text>
<text x="578" y="461.9" font-size="3.7" text-anchor="start" fill="#444" font-weight="normal" textLength="22.5" lengthAdjust="spacingAndGlyphs" >COMMENTS</text>
<text x="578" y="466.8" font-size="3.5" text-anchor="start" fill="#666" font-weight="normal" >-</text>
<rect x="673.2" y="418.8" width="13.2" height="12.6" fill="#111"/>
<circle cx="680.1" cy="424.9" r="6.1" fill="#fff"/>
<path d="M673.2,431.4 V424.6 Q676.5,422.4 680.6,423.6 Q680.2,427.5 682,431.4 Z" fill="#111"/>
<text x="689.3" y="425.5" font-size="9" text-anchor="start" fill="#111" font-weight="bold" textLength="54" lengthAdjust="spacingAndGlyphs" >BLUE SEA</text>
<text x="690.8" y="431.7" font-size="4.6" text-anchor="middle" fill="#111" font-weight="normal" stroke="#111" stroke-width="0.2">S</text>
<text x="699.55" y="431.7" font-size="4.6" text-anchor="middle" fill="#111" font-weight="normal" stroke="#111" stroke-width="0.2">Y</text>
<text x="708.3" y="431.7" font-size="4.6" text-anchor="middle" fill="#111" font-weight="normal" stroke="#111" stroke-width="0.2">S</text>
<text x="717.05" y="431.7" font-size="4.6" text-anchor="middle" fill="#111" font-weight="normal" stroke="#111" stroke-width="0.2">T</text>
<text x="725.8" y="431.7" font-size="4.6" text-anchor="middle" fill="#111" font-weight="normal" stroke="#111" stroke-width="0.2">E</text>
<text x="734.55" y="431.7" font-size="4.6" text-anchor="middle" fill="#111" font-weight="normal" stroke="#111" stroke-width="0.2">M</text>
<text x="743.3" y="431.7" font-size="4.6" text-anchor="middle" fill="#111" font-weight="normal" stroke="#111" stroke-width="0.2">S</text>
<text x="708.5" y="437.1" font-size="3.7" text-anchor="middle" fill="#222" font-weight="normal" textLength="73" lengthAdjust="spacingAndGlyphs" >425 Sequoia Drive   Bellingham, WA 98226</text>
<text x="708.5" y="441.2" font-size="3.7" text-anchor="middle" fill="#222" font-weight="normal" textLength="72" lengthAdjust="spacingAndGlyphs" >Phone (360)738-8230   Fax (360)734-4195</text>
<text x="708.8" y="451.6" font-size="6.8" text-anchor="middle" fill="#222" font-weight="normal" textLength="61.6" lengthAdjust="spacingAndGlyphs" >Terminal Blocks - 30A</text>
<text x="708.7" y="464.4" font-size="5.2" text-anchor="middle" fill="#333" font-weight="normal" textLength="32.6" lengthAdjust="spacingAndGlyphs" >25XX SERIES</text>
<text x="641.3" y="471.1" font-size="3.5" text-anchor="start" fill="#444" font-weight="normal" textLength="7.5" lengthAdjust="spacingAndGlyphs" >SIZE</text>
<text x="645.9" y="477.8" font-size="6.8" text-anchor="middle" fill="#222" font-weight="normal" >B</text>
<text x="653.4" y="471.1" font-size="3.5" text-anchor="start" fill="#444" font-weight="normal" textLength="15.5" lengthAdjust="spacingAndGlyphs" >DWG. NO.</text>
<text x="653.6" y="477.6" font-size="6.6" text-anchor="start" fill="#222" font-weight="normal" textLength="110.4" lengthAdjust="spacingAndGlyphs" >Terminal Blocks - 30A - Family Drawing</text>
<text x="766.6" y="471.1" font-size="3.5" text-anchor="start" fill="#444" font-weight="normal" textLength="7.6" lengthAdjust="spacingAndGlyphs" >REV.</text>
<text x="770.2" y="477.8" font-size="6.8" text-anchor="middle" fill="#222" font-weight="normal" >1</text>
<text x="641.6" y="483.9" font-size="3.6" text-anchor="start" fill="#444" font-weight="normal" textLength="18.4" lengthAdjust="spacingAndGlyphs" >SCALE 1:1</text>
<text x="665.6" y="483.9" font-size="3.6" text-anchor="start" fill="#444" font-weight="normal" textLength="14.4" lengthAdjust="spacingAndGlyphs" >WEIGHT:</text>
<text x="684" y="483.9" font-size="3.6" text-anchor="start" fill="#444" font-weight="normal" textLength="16" lengthAdjust="spacingAndGlyphs" >POUNDS</text>
<text x="740" y="483.9" font-size="3.6" text-anchor="start" fill="#444" font-weight="normal" textLength="25" lengthAdjust="spacingAndGlyphs" >SHEET 1 OF 1</text>
</svg></body></html>
